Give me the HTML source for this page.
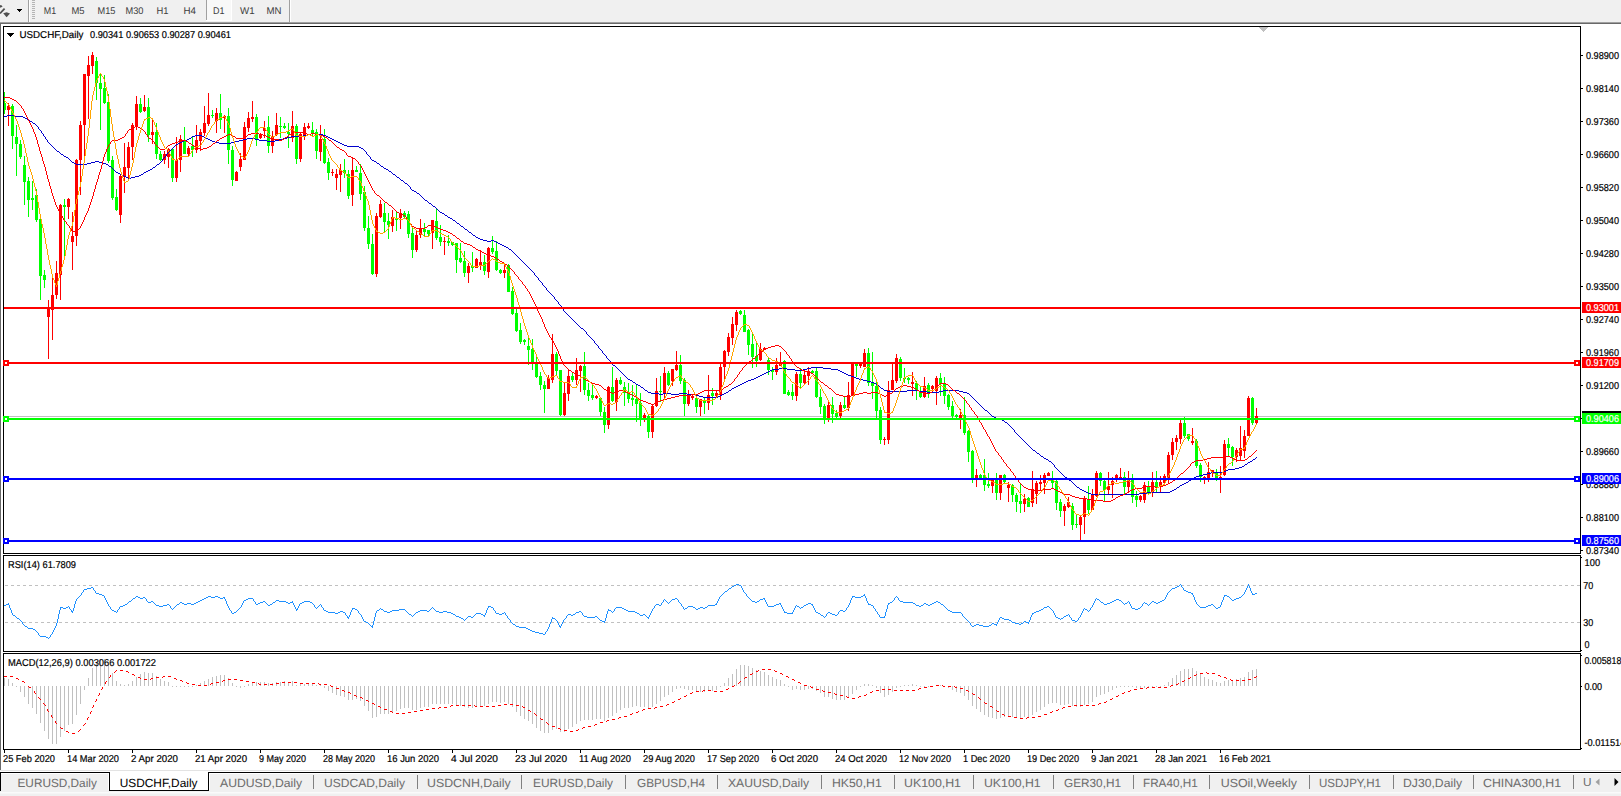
<!DOCTYPE html>
<html><head><meta charset="utf-8"><title>USDCHF,Daily</title>
<style>html,body{margin:0;padding:0;background:#fff;overflow:hidden}body{width:1621px;height:796px;position:relative;font-family:"Liberation Sans",sans-serif}</style></head>
<body>
<svg width="1621" height="796" viewBox="0 0 1621 796" style="position:absolute;left:0;top:0" font-family="Liberation Sans, sans-serif" text-rendering="geometricPrecision">
<rect x="0" y="0" width="1621" height="796" fill="#fff"/>
<g shape-rendering="crispEdges">
<rect x="0" y="0" width="1621" height="22" fill="#f0f0f0"/>
<rect x="0" y="22" width="1621" height="1" fill="#a0a0a0"/>
<rect x="0" y="23" width="1621" height="1" fill="#696969"/>
<rect x="0" y="24" width="1" height="746" fill="#696969"/>
<rect x="28" y="0" width="1" height="22" fill="#a0a0a0"/><rect x="29" y="0" width="1" height="22" fill="#fff"/>
<rect x="32" y="0" width="3" height="1" fill="#b4b4b4"/>
<rect x="32" y="2" width="3" height="1" fill="#b4b4b4"/>
<rect x="32" y="4" width="3" height="1" fill="#b4b4b4"/>
<rect x="32" y="6" width="3" height="1" fill="#b4b4b4"/>
<rect x="32" y="8" width="3" height="1" fill="#b4b4b4"/>
<rect x="32" y="10" width="3" height="1" fill="#b4b4b4"/>
<rect x="32" y="12" width="3" height="1" fill="#b4b4b4"/>
<rect x="32" y="14" width="3" height="1" fill="#b4b4b4"/>
<rect x="32" y="16" width="3" height="1" fill="#b4b4b4"/>
<rect x="32" y="18" width="3" height="1" fill="#b4b4b4"/>
<rect x="289" y="0" width="1" height="22" fill="#a0a0a0"/><rect x="290" y="0" width="1" height="22" fill="#fff"/>
<rect x="206" y="0" width="1" height="20" fill="#a0a0a0"/><rect x="207" y="0" width="24" height="20" fill="#f8f8f8"/><rect x="231" y="0" width="1" height="21" fill="#fff"/><rect x="206" y="20" width="26" height="1" fill="#fff"/>
<rect x="17" y="9" width="5" height="1" fill="#000"/><rect x="18" y="10" width="3" height="1" fill="#000"/><rect x="19" y="11" width="1" height="1" fill="#000"/>
</g>
<path d="M0 13.5 L4.6 8.6" stroke="#505050" stroke-width="1.8" fill="none"/><path d="M0 5.2 L1.2 5 L2.6 6.8 L0 7.8Z" fill="#505050"/><path d="M3.2 13.2 L6.6 12.2 L10 13.4 L6.6 17.2Z" fill="#505050"/>
<g opacity="0.99">
<text x="43.8" y="14" font-size="9.7" fill="#3c3c3c" textLength="12.4" lengthAdjust="spacingAndGlyphs">M1</text>
<text x="71.5" y="14" font-size="9.7" fill="#3c3c3c" textLength="13.1" lengthAdjust="spacingAndGlyphs">M5</text>
<text x="97.6" y="14" font-size="9.7" fill="#3c3c3c" textLength="17.9" lengthAdjust="spacingAndGlyphs">M15</text>
<text x="125.5" y="14" font-size="9.7" fill="#3c3c3c" textLength="18.0" lengthAdjust="spacingAndGlyphs">M30</text>
<text x="156.5" y="14" font-size="9.7" fill="#3c3c3c" textLength="12.0" lengthAdjust="spacingAndGlyphs">H1</text>
<text x="183.5" y="14" font-size="9.7" fill="#3c3c3c" textLength="12.5" lengthAdjust="spacingAndGlyphs">H4</text>
<text x="213" y="14" font-size="9.7" fill="#3c3c3c" textLength="11.5" lengthAdjust="spacingAndGlyphs">D1</text>
<text x="240" y="14" font-size="9.7" fill="#3c3c3c" textLength="14.6" lengthAdjust="spacingAndGlyphs">W1</text>
<text x="266.5" y="14" font-size="9.7" fill="#3c3c3c" textLength="15.0" lengthAdjust="spacingAndGlyphs">MN</text>
</g>
<g shape-rendering="crispEdges" fill="#000">
<rect x="3" y="26" width="1578" height="1"/>
<rect x="3" y="26" width="1" height="528"/>
<rect x="3" y="553" width="1578" height="1"/>
<rect x="1580" y="26" width="1" height="528"/><rect x="1580" y="555" width="1" height="97"/><rect x="1580" y="653" width="1" height="97"/>
<rect x="3" y="555" width="1578" height="1"/><rect x="3" y="555" width="1" height="97"/><rect x="3" y="651" width="1578" height="1"/>
<rect x="3" y="653" width="1578" height="1"/><rect x="3" y="653" width="1" height="97"/><rect x="3" y="749" width="1578" height="1"/>
<rect x="4" y="750" width="1" height="3"/>
<rect x="68" y="750" width="1" height="3"/>
<rect x="132" y="750" width="1" height="3"/>
<rect x="196" y="750" width="1" height="3"/>
<rect x="260" y="750" width="1" height="3"/>
<rect x="324" y="750" width="1" height="3"/>
<rect x="388" y="750" width="1" height="3"/>
<rect x="452" y="750" width="1" height="3"/>
<rect x="516" y="750" width="1" height="3"/>
<rect x="580" y="750" width="1" height="3"/>
<rect x="644" y="750" width="1" height="3"/>
<rect x="708" y="750" width="1" height="3"/>
<rect x="772" y="750" width="1" height="3"/>
<rect x="836" y="750" width="1" height="3"/>
<rect x="900" y="750" width="1" height="3"/>
<rect x="964" y="750" width="1" height="3"/>
<rect x="1028" y="750" width="1" height="3"/>
<rect x="1092" y="750" width="1" height="3"/>
<rect x="1156" y="750" width="1" height="3"/>
<rect x="1220" y="750" width="1" height="3"/>
<rect x="1581" y="55" width="2" height="1"/>
<rect x="1581" y="88" width="2" height="1"/>
<rect x="1581" y="121" width="2" height="1"/>
<rect x="1581" y="154" width="2" height="1"/>
<rect x="1581" y="187" width="2" height="1"/>
<rect x="1581" y="220" width="2" height="1"/>
<rect x="1581" y="253" width="2" height="1"/>
<rect x="1581" y="286" width="2" height="1"/>
<rect x="1581" y="319" width="2" height="1"/>
<rect x="1581" y="352" width="2" height="1"/>
<rect x="1581" y="385" width="2" height="1"/>
<rect x="1581" y="418" width="2" height="1"/>
<rect x="1581" y="451" width="2" height="1"/>
<rect x="1581" y="484" width="2" height="1"/>
<rect x="1581" y="517" width="2" height="1"/>
<rect x="1581" y="550" width="2" height="1"/>
<rect x="1581" y="557" width="1" height="1"/>
<rect x="1581" y="650" width="1" height="1"/>
<rect x="1581" y="655" width="1" height="1"/>
<rect x="1581" y="686" width="1" height="1"/>
<rect x="1581" y="748" width="1" height="1"/>
</g>
<g shape-rendering="crispEdges" fill="#c0c0c0"><rect x="1259" y="27" width="9" height="1"/><rect x="1260" y="28" width="7" height="1"/><rect x="1261" y="29" width="5" height="1"/><rect x="1262" y="30" width="3" height="1"/><rect x="1263" y="31" width="1" height="1"/></g>
<g shape-rendering="crispEdges" stroke="#c0c0c0" stroke-width="1" stroke-dasharray="3 3">
<line x1="5" y1="585.5" x2="1580" y2="585.5"/><line x1="5" y1="622.5" x2="1580" y2="622.5"/>
</g>
<g shape-rendering="crispEdges">
<rect x="4" y="416" width="1576" height="1" fill="#c0c0c0"/>
<rect x="4" y="92" width="1" height="22" fill="#00ff00"/><rect x="4" y="103" width="2" height="7" fill="#00ff00"/>
<rect x="8" y="103" width="1" height="23" fill="#ff0000"/><rect x="7" y="106" width="3" height="4" fill="#ff0000"/>
<rect x="12" y="104" width="1" height="45" fill="#00ff00"/><rect x="11" y="106" width="3" height="30" fill="#00ff00"/>
<rect x="16" y="125" width="1" height="51" fill="#00ff00"/><rect x="15" y="137" width="3" height="7" fill="#00ff00"/>
<rect x="20" y="140" width="1" height="19" fill="#00ff00"/><rect x="19" y="144" width="3" height="13" fill="#00ff00"/>
<rect x="24" y="156" width="1" height="49" fill="#00ff00"/><rect x="23" y="165" width="3" height="17" fill="#00ff00"/>
<rect x="28" y="177" width="1" height="40" fill="#00ff00"/><rect x="27" y="181" width="3" height="19" fill="#00ff00"/>
<rect x="32" y="181" width="1" height="29" fill="#00ff00"/><rect x="31" y="198" width="3" height="2" fill="#00ff00"/>
<rect x="36" y="189" width="1" height="33" fill="#00ff00"/><rect x="35" y="195" width="3" height="25" fill="#00ff00"/>
<rect x="40" y="217" width="1" height="83" fill="#00ff00"/><rect x="39" y="219" width="3" height="57" fill="#00ff00"/>
<rect x="44" y="270" width="1" height="18" fill="#00ff00"/><rect x="43" y="275" width="3" height="5" fill="#00ff00"/>
<rect x="48" y="300" width="1" height="59" fill="#ff0000"/><rect x="47" y="308" width="3" height="9" fill="#ff0000"/>
<rect x="52" y="278" width="1" height="62" fill="#ff0000"/><rect x="51" y="295" width="3" height="15" fill="#ff0000"/>
<rect x="56" y="261" width="1" height="38" fill="#ff0000"/><rect x="55" y="273" width="3" height="22" fill="#ff0000"/>
<rect x="60" y="204" width="1" height="96" fill="#ff0000"/><rect x="59" y="205" width="3" height="70" fill="#ff0000"/>
<rect x="64" y="199" width="1" height="57" fill="#00ff00"/><rect x="63" y="205" width="3" height="2" fill="#00ff00"/>
<rect x="68" y="198" width="1" height="21" fill="#ff0000"/><rect x="67" y="199" width="3" height="8" fill="#ff0000"/>
<rect x="72" y="212" width="1" height="58" fill="#ff0000"/><rect x="71" y="236" width="3" height="6" fill="#ff0000"/>
<rect x="76" y="159" width="1" height="87" fill="#ff0000"/><rect x="75" y="160" width="3" height="76" fill="#ff0000"/>
<rect x="80" y="121" width="1" height="74" fill="#ff0000"/><rect x="79" y="125" width="3" height="35" fill="#ff0000"/>
<rect x="84" y="74" width="1" height="82" fill="#ff0000"/><rect x="83" y="74" width="3" height="51" fill="#ff0000"/>
<rect x="88" y="56" width="1" height="63" fill="#ff0000"/><rect x="87" y="65" width="3" height="11" fill="#ff0000"/>
<rect x="92" y="52" width="1" height="22" fill="#ff0000"/><rect x="91" y="55" width="3" height="11" fill="#ff0000"/>
<rect x="96" y="57" width="1" height="43" fill="#00ff00"/><rect x="95" y="61" width="3" height="22" fill="#00ff00"/>
<rect x="100" y="74" width="1" height="56" fill="#00ff00"/><rect x="99" y="83" width="3" height="6" fill="#00ff00"/>
<rect x="104" y="75" width="1" height="29" fill="#00ff00"/><rect x="103" y="88" width="3" height="15" fill="#00ff00"/>
<rect x="108" y="94" width="1" height="69" fill="#00ff00"/><rect x="107" y="102" width="3" height="59" fill="#00ff00"/>
<rect x="112" y="156" width="1" height="44" fill="#00ff00"/><rect x="111" y="160" width="3" height="38" fill="#00ff00"/>
<rect x="116" y="189" width="1" height="22" fill="#00ff00"/><rect x="115" y="197" width="3" height="13" fill="#00ff00"/>
<rect x="120" y="175" width="1" height="48" fill="#ff0000"/><rect x="119" y="176" width="3" height="39" fill="#ff0000"/>
<rect x="124" y="143" width="1" height="50" fill="#ff0000"/><rect x="123" y="167" width="3" height="10" fill="#ff0000"/>
<rect x="128" y="142" width="1" height="36" fill="#ff0000"/><rect x="127" y="147" width="3" height="21" fill="#ff0000"/>
<rect x="132" y="123" width="1" height="37" fill="#ff0000"/><rect x="131" y="125" width="3" height="22" fill="#ff0000"/>
<rect x="136" y="96" width="1" height="34" fill="#ff0000"/><rect x="135" y="104" width="3" height="22" fill="#ff0000"/>
<rect x="140" y="98" width="1" height="15" fill="#00ff00"/><rect x="139" y="104" width="3" height="8" fill="#00ff00"/>
<rect x="144" y="95" width="1" height="17" fill="#ff0000"/><rect x="143" y="107" width="3" height="4" fill="#ff0000"/>
<rect x="148" y="98" width="1" height="44" fill="#00ff00"/><rect x="147" y="107" width="3" height="28" fill="#00ff00"/>
<rect x="152" y="119" width="1" height="25" fill="#ff0000"/><rect x="151" y="132" width="3" height="3" fill="#ff0000"/>
<rect x="156" y="123" width="1" height="36" fill="#00ff00"/><rect x="155" y="132" width="3" height="22" fill="#00ff00"/>
<rect x="160" y="151" width="1" height="10" fill="#00ff00"/><rect x="159" y="154" width="3" height="6" fill="#00ff00"/>
<rect x="164" y="151" width="1" height="13" fill="#ff0000"/><rect x="163" y="154" width="3" height="6" fill="#ff0000"/>
<rect x="168" y="148" width="1" height="20" fill="#ff0000"/><rect x="167" y="149" width="3" height="8" fill="#ff0000"/>
<rect x="172" y="148" width="1" height="34" fill="#00ff00"/><rect x="171" y="149" width="3" height="29" fill="#00ff00"/>
<rect x="176" y="137" width="1" height="45" fill="#ff0000"/><rect x="175" y="160" width="3" height="18" fill="#ff0000"/>
<rect x="180" y="135" width="1" height="37" fill="#ff0000"/><rect x="179" y="139" width="3" height="21" fill="#ff0000"/>
<rect x="184" y="127" width="1" height="27" fill="#00ff00"/><rect x="183" y="140" width="3" height="14" fill="#00ff00"/>
<rect x="188" y="146" width="1" height="10" fill="#ff0000"/><rect x="187" y="148" width="3" height="6" fill="#ff0000"/>
<rect x="192" y="137" width="1" height="20" fill="#00ff00"/><rect x="191" y="146" width="3" height="4" fill="#00ff00"/>
<rect x="196" y="125" width="1" height="28" fill="#ff0000"/><rect x="195" y="140" width="3" height="10" fill="#ff0000"/>
<rect x="200" y="129" width="1" height="22" fill="#ff0000"/><rect x="199" y="132" width="3" height="9" fill="#ff0000"/>
<rect x="204" y="106" width="1" height="30" fill="#ff0000"/><rect x="203" y="123" width="3" height="10" fill="#ff0000"/>
<rect x="208" y="93" width="1" height="33" fill="#ff0000"/><rect x="207" y="115" width="3" height="9" fill="#ff0000"/>
<rect x="212" y="110" width="1" height="8" fill="#00ff00"/><rect x="211" y="115" width="3" height="1" fill="#00ff00"/>
<rect x="216" y="108" width="1" height="25" fill="#ff0000"/><rect x="215" y="113" width="3" height="8" fill="#ff0000"/>
<rect x="220" y="94" width="1" height="35" fill="#00ff00"/><rect x="219" y="113" width="3" height="7" fill="#00ff00"/>
<rect x="224" y="115" width="1" height="18" fill="#ff0000"/><rect x="223" y="116" width="3" height="2" fill="#ff0000"/>
<rect x="228" y="108" width="1" height="56" fill="#00ff00"/><rect x="227" y="116" width="3" height="34" fill="#00ff00"/>
<rect x="232" y="146" width="1" height="40" fill="#00ff00"/><rect x="231" y="150" width="3" height="30" fill="#00ff00"/>
<rect x="236" y="171" width="1" height="10" fill="#ff0000"/><rect x="235" y="172" width="3" height="9" fill="#ff0000"/>
<rect x="240" y="153" width="1" height="18" fill="#ff0000"/><rect x="239" y="159" width="3" height="8" fill="#ff0000"/>
<rect x="244" y="122" width="1" height="38" fill="#ff0000"/><rect x="243" y="127" width="3" height="33" fill="#ff0000"/>
<rect x="248" y="112" width="1" height="20" fill="#ff0000"/><rect x="247" y="118" width="3" height="10" fill="#ff0000"/>
<rect x="252" y="101" width="1" height="21" fill="#ff0000"/><rect x="251" y="117" width="3" height="2" fill="#ff0000"/>
<rect x="256" y="114" width="1" height="32" fill="#00ff00"/><rect x="255" y="117" width="3" height="23" fill="#00ff00"/>
<rect x="260" y="133" width="1" height="6" fill="#ff0000"/><rect x="259" y="134" width="3" height="4" fill="#ff0000"/>
<rect x="264" y="121" width="1" height="17" fill="#ff0000"/><rect x="263" y="128" width="3" height="3" fill="#ff0000"/>
<rect x="268" y="116" width="1" height="37" fill="#00ff00"/><rect x="267" y="127" width="3" height="19" fill="#00ff00"/>
<rect x="272" y="131" width="1" height="22" fill="#ff0000"/><rect x="271" y="136" width="3" height="10" fill="#ff0000"/>
<rect x="276" y="113" width="1" height="23" fill="#ff0000"/><rect x="275" y="125" width="3" height="10" fill="#ff0000"/>
<rect x="280" y="117" width="1" height="21" fill="#00ff00"/><rect x="279" y="126" width="3" height="1" fill="#00ff00"/>
<rect x="284" y="123" width="1" height="6" fill="#00ff00"/><rect x="283" y="126" width="3" height="2" fill="#00ff00"/>
<rect x="288" y="123" width="1" height="25" fill="#00ff00"/><rect x="287" y="132" width="3" height="2" fill="#00ff00"/>
<rect x="292" y="111" width="1" height="31" fill="#ff0000"/><rect x="291" y="126" width="3" height="12" fill="#ff0000"/>
<rect x="296" y="124" width="1" height="40" fill="#00ff00"/><rect x="295" y="126" width="3" height="33" fill="#00ff00"/>
<rect x="300" y="132" width="1" height="30" fill="#ff0000"/><rect x="299" y="134" width="3" height="25" fill="#ff0000"/>
<rect x="304" y="123" width="1" height="17" fill="#ff0000"/><rect x="303" y="127" width="3" height="8" fill="#ff0000"/>
<rect x="308" y="123" width="1" height="6" fill="#ff0000"/><rect x="307" y="126" width="3" height="2" fill="#ff0000"/>
<rect x="312" y="122" width="1" height="15" fill="#00ff00"/><rect x="311" y="130" width="3" height="3" fill="#00ff00"/>
<rect x="316" y="129" width="1" height="30" fill="#00ff00"/><rect x="315" y="132" width="3" height="19" fill="#00ff00"/>
<rect x="320" y="125" width="1" height="36" fill="#ff0000"/><rect x="319" y="139" width="3" height="13" fill="#ff0000"/>
<rect x="324" y="129" width="1" height="35" fill="#00ff00"/><rect x="323" y="139" width="3" height="24" fill="#00ff00"/>
<rect x="328" y="158" width="1" height="22" fill="#00ff00"/><rect x="327" y="162" width="3" height="11" fill="#00ff00"/>
<rect x="332" y="169" width="1" height="7" fill="#ff0000"/><rect x="331" y="172" width="3" height="1" fill="#ff0000"/>
<rect x="336" y="169" width="1" height="21" fill="#ff0000"/><rect x="335" y="174" width="3" height="4" fill="#ff0000"/>
<rect x="340" y="164" width="1" height="28" fill="#ff0000"/><rect x="339" y="170" width="3" height="5" fill="#ff0000"/>
<rect x="344" y="159" width="1" height="19" fill="#00ff00"/><rect x="343" y="170" width="3" height="3" fill="#00ff00"/>
<rect x="348" y="170" width="1" height="29" fill="#00ff00"/><rect x="347" y="174" width="3" height="22" fill="#00ff00"/>
<rect x="352" y="158" width="1" height="48" fill="#ff0000"/><rect x="351" y="170" width="3" height="25" fill="#ff0000"/>
<rect x="356" y="166" width="1" height="6" fill="#00ff00"/><rect x="355" y="170" width="3" height="2" fill="#00ff00"/>
<rect x="360" y="164" width="1" height="36" fill="#00ff00"/><rect x="359" y="173" width="3" height="21" fill="#00ff00"/>
<rect x="364" y="186" width="1" height="45" fill="#00ff00"/><rect x="363" y="192" width="3" height="36" fill="#00ff00"/>
<rect x="368" y="216" width="1" height="33" fill="#00ff00"/><rect x="367" y="228" width="3" height="16" fill="#00ff00"/>
<rect x="372" y="234" width="1" height="41" fill="#00ff00"/><rect x="371" y="244" width="3" height="30" fill="#00ff00"/>
<rect x="376" y="213" width="1" height="64" fill="#ff0000"/><rect x="375" y="216" width="3" height="58" fill="#ff0000"/>
<rect x="380" y="200" width="1" height="18" fill="#ff0000"/><rect x="379" y="204" width="3" height="13" fill="#ff0000"/>
<rect x="384" y="203" width="1" height="29" fill="#00ff00"/><rect x="383" y="213" width="3" height="9" fill="#00ff00"/>
<rect x="388" y="213" width="1" height="26" fill="#00ff00"/><rect x="387" y="221" width="3" height="4" fill="#00ff00"/>
<rect x="392" y="210" width="1" height="22" fill="#ff0000"/><rect x="391" y="217" width="3" height="9" fill="#ff0000"/>
<rect x="396" y="211" width="1" height="20" fill="#00ff00"/><rect x="395" y="218" width="3" height="2" fill="#00ff00"/>
<rect x="400" y="209" width="1" height="20" fill="#ff0000"/><rect x="399" y="213" width="3" height="5" fill="#ff0000"/>
<rect x="404" y="211" width="1" height="7" fill="#00ff00"/><rect x="403" y="213" width="3" height="4" fill="#00ff00"/>
<rect x="408" y="211" width="1" height="27" fill="#00ff00"/><rect x="407" y="214" width="3" height="20" fill="#00ff00"/>
<rect x="412" y="227" width="1" height="31" fill="#00ff00"/><rect x="411" y="233" width="3" height="17" fill="#00ff00"/>
<rect x="416" y="230" width="1" height="22" fill="#ff0000"/><rect x="415" y="235" width="3" height="15" fill="#ff0000"/>
<rect x="420" y="219" width="1" height="19" fill="#ff0000"/><rect x="419" y="228" width="3" height="7" fill="#ff0000"/>
<rect x="424" y="223" width="1" height="14" fill="#00ff00"/><rect x="423" y="229" width="3" height="3" fill="#00ff00"/>
<rect x="428" y="230" width="1" height="7" fill="#00ff00"/><rect x="427" y="230" width="3" height="4" fill="#00ff00"/>
<rect x="432" y="220" width="1" height="29" fill="#ff0000"/><rect x="431" y="220" width="3" height="13" fill="#ff0000"/>
<rect x="436" y="208" width="1" height="32" fill="#00ff00"/><rect x="435" y="221" width="3" height="17" fill="#00ff00"/>
<rect x="440" y="225" width="1" height="21" fill="#00ff00"/><rect x="439" y="237" width="3" height="5" fill="#00ff00"/>
<rect x="444" y="237" width="1" height="18" fill="#ff0000"/><rect x="443" y="241" width="3" height="1" fill="#ff0000"/>
<rect x="448" y="235" width="1" height="11" fill="#00ff00"/><rect x="447" y="241" width="3" height="2" fill="#00ff00"/>
<rect x="452" y="242" width="1" height="4" fill="#00ff00"/><rect x="451" y="242" width="3" height="3" fill="#00ff00"/>
<rect x="456" y="243" width="1" height="30" fill="#00ff00"/><rect x="455" y="243" width="3" height="17" fill="#00ff00"/>
<rect x="460" y="243" width="1" height="20" fill="#00ff00"/><rect x="459" y="258" width="3" height="4" fill="#00ff00"/>
<rect x="464" y="251" width="1" height="26" fill="#00ff00"/><rect x="463" y="261" width="3" height="12" fill="#00ff00"/>
<rect x="468" y="263" width="1" height="20" fill="#ff0000"/><rect x="467" y="266" width="3" height="7" fill="#ff0000"/>
<rect x="472" y="252" width="1" height="20" fill="#00ff00"/><rect x="471" y="266" width="3" height="2" fill="#00ff00"/>
<rect x="476" y="258" width="1" height="10" fill="#ff0000"/><rect x="475" y="259" width="3" height="9" fill="#ff0000"/>
<rect x="480" y="250" width="1" height="20" fill="#ff0000"/><rect x="479" y="262" width="3" height="4" fill="#ff0000"/>
<rect x="484" y="255" width="1" height="20" fill="#00ff00"/><rect x="483" y="262" width="3" height="9" fill="#00ff00"/>
<rect x="488" y="247" width="1" height="31" fill="#ff0000"/><rect x="487" y="248" width="3" height="24" fill="#ff0000"/>
<rect x="492" y="236" width="1" height="18" fill="#00ff00"/><rect x="491" y="248" width="3" height="4" fill="#00ff00"/>
<rect x="496" y="241" width="1" height="30" fill="#00ff00"/><rect x="495" y="251" width="3" height="19" fill="#00ff00"/>
<rect x="500" y="269" width="1" height="5" fill="#00ff00"/><rect x="499" y="270" width="3" height="3" fill="#00ff00"/>
<rect x="504" y="263" width="1" height="15" fill="#ff0000"/><rect x="503" y="270" width="3" height="3" fill="#ff0000"/>
<rect x="508" y="264" width="1" height="28" fill="#00ff00"/><rect x="507" y="265" width="3" height="27" fill="#00ff00"/>
<rect x="512" y="287" width="1" height="28" fill="#00ff00"/><rect x="511" y="291" width="3" height="23" fill="#00ff00"/>
<rect x="516" y="309" width="1" height="23" fill="#00ff00"/><rect x="515" y="313" width="3" height="18" fill="#00ff00"/>
<rect x="520" y="323" width="1" height="21" fill="#00ff00"/><rect x="519" y="330" width="3" height="12" fill="#00ff00"/>
<rect x="524" y="339" width="1" height="6" fill="#00ff00"/><rect x="523" y="340" width="3" height="2" fill="#00ff00"/>
<rect x="528" y="338" width="1" height="27" fill="#00ff00"/><rect x="527" y="346" width="3" height="4" fill="#00ff00"/>
<rect x="532" y="339" width="1" height="31" fill="#00ff00"/><rect x="531" y="349" width="3" height="15" fill="#00ff00"/>
<rect x="536" y="355" width="1" height="23" fill="#00ff00"/><rect x="535" y="363" width="3" height="14" fill="#00ff00"/>
<rect x="540" y="372" width="1" height="18" fill="#00ff00"/><rect x="539" y="376" width="3" height="9" fill="#00ff00"/>
<rect x="544" y="381" width="1" height="32" fill="#00ff00"/><rect x="543" y="385" width="3" height="4" fill="#00ff00"/>
<rect x="548" y="375" width="1" height="14" fill="#ff0000"/><rect x="547" y="378" width="3" height="11" fill="#ff0000"/>
<rect x="552" y="334" width="1" height="49" fill="#ff0000"/><rect x="551" y="354" width="3" height="26" fill="#ff0000"/>
<rect x="556" y="352" width="1" height="23" fill="#00ff00"/><rect x="555" y="354" width="3" height="17" fill="#00ff00"/>
<rect x="560" y="370" width="1" height="46" fill="#00ff00"/><rect x="559" y="370" width="3" height="45" fill="#00ff00"/>
<rect x="564" y="382" width="1" height="34" fill="#ff0000"/><rect x="563" y="393" width="3" height="22" fill="#ff0000"/>
<rect x="568" y="370" width="1" height="31" fill="#ff0000"/><rect x="567" y="376" width="3" height="18" fill="#ff0000"/>
<rect x="572" y="373" width="1" height="9" fill="#00ff00"/><rect x="571" y="376" width="3" height="4" fill="#00ff00"/>
<rect x="576" y="358" width="1" height="27" fill="#ff0000"/><rect x="575" y="370" width="3" height="10" fill="#ff0000"/>
<rect x="580" y="365" width="1" height="27" fill="#ff0000"/><rect x="579" y="366" width="3" height="5" fill="#ff0000"/>
<rect x="584" y="352" width="1" height="43" fill="#00ff00"/><rect x="583" y="366" width="3" height="24" fill="#00ff00"/>
<rect x="588" y="383" width="1" height="18" fill="#00ff00"/><rect x="587" y="390" width="3" height="6" fill="#00ff00"/>
<rect x="592" y="384" width="1" height="16" fill="#00ff00"/><rect x="591" y="395" width="3" height="3" fill="#00ff00"/>
<rect x="596" y="395" width="1" height="4" fill="#ff0000"/><rect x="595" y="396" width="3" height="2" fill="#ff0000"/>
<rect x="600" y="398" width="1" height="18" fill="#00ff00"/><rect x="599" y="398" width="3" height="14" fill="#00ff00"/>
<rect x="604" y="407" width="1" height="26" fill="#00ff00"/><rect x="603" y="412" width="3" height="13" fill="#00ff00"/>
<rect x="608" y="386" width="1" height="43" fill="#ff0000"/><rect x="607" y="387" width="3" height="38" fill="#ff0000"/>
<rect x="612" y="367" width="1" height="35" fill="#00ff00"/><rect x="611" y="387" width="3" height="14" fill="#00ff00"/>
<rect x="616" y="378" width="1" height="33" fill="#ff0000"/><rect x="615" y="380" width="3" height="22" fill="#ff0000"/>
<rect x="620" y="377" width="1" height="8" fill="#00ff00"/><rect x="619" y="380" width="3" height="4" fill="#00ff00"/>
<rect x="624" y="382" width="1" height="24" fill="#00ff00"/><rect x="623" y="387" width="3" height="6" fill="#00ff00"/>
<rect x="628" y="383" width="1" height="20" fill="#00ff00"/><rect x="627" y="393" width="3" height="6" fill="#00ff00"/>
<rect x="632" y="385" width="1" height="21" fill="#00ff00"/><rect x="631" y="398" width="3" height="2" fill="#00ff00"/>
<rect x="636" y="384" width="1" height="38" fill="#00ff00"/><rect x="635" y="399" width="3" height="5" fill="#00ff00"/>
<rect x="640" y="393" width="1" height="33" fill="#00ff00"/><rect x="639" y="403" width="3" height="15" fill="#00ff00"/>
<rect x="644" y="413" width="1" height="9" fill="#ff0000"/><rect x="643" y="415" width="3" height="3" fill="#ff0000"/>
<rect x="648" y="415" width="1" height="23" fill="#00ff00"/><rect x="647" y="416" width="3" height="16" fill="#00ff00"/>
<rect x="652" y="404" width="1" height="34" fill="#ff0000"/><rect x="651" y="406" width="3" height="26" fill="#ff0000"/>
<rect x="656" y="378" width="1" height="29" fill="#ff0000"/><rect x="655" y="391" width="3" height="15" fill="#ff0000"/>
<rect x="660" y="376" width="1" height="26" fill="#00ff00"/><rect x="659" y="391" width="3" height="1" fill="#00ff00"/>
<rect x="664" y="367" width="1" height="31" fill="#ff0000"/><rect x="663" y="373" width="3" height="20" fill="#ff0000"/>
<rect x="668" y="371" width="1" height="15" fill="#00ff00"/><rect x="667" y="373" width="3" height="12" fill="#00ff00"/>
<rect x="672" y="369" width="1" height="17" fill="#ff0000"/><rect x="671" y="369" width="3" height="12" fill="#ff0000"/>
<rect x="676" y="351" width="1" height="20" fill="#ff0000"/><rect x="675" y="365" width="3" height="5" fill="#ff0000"/>
<rect x="680" y="355" width="1" height="29" fill="#00ff00"/><rect x="679" y="365" width="3" height="16" fill="#00ff00"/>
<rect x="684" y="378" width="1" height="38" fill="#00ff00"/><rect x="683" y="380" width="3" height="24" fill="#00ff00"/>
<rect x="688" y="390" width="1" height="16" fill="#ff0000"/><rect x="687" y="396" width="3" height="8" fill="#ff0000"/>
<rect x="692" y="394" width="1" height="6" fill="#ff0000"/><rect x="691" y="396" width="3" height="2" fill="#ff0000"/>
<rect x="696" y="397" width="1" height="16" fill="#00ff00"/><rect x="695" y="398" width="3" height="9" fill="#00ff00"/>
<rect x="700" y="399" width="1" height="17" fill="#ff0000"/><rect x="699" y="399" width="3" height="8" fill="#ff0000"/>
<rect x="704" y="397" width="1" height="17" fill="#00ff00"/><rect x="703" y="400" width="3" height="3" fill="#00ff00"/>
<rect x="708" y="375" width="1" height="35" fill="#ff0000"/><rect x="707" y="395" width="3" height="8" fill="#ff0000"/>
<rect x="712" y="388" width="1" height="17" fill="#00ff00"/><rect x="711" y="393" width="3" height="3" fill="#00ff00"/>
<rect x="716" y="390" width="1" height="8" fill="#ff0000"/><rect x="715" y="393" width="3" height="3" fill="#ff0000"/>
<rect x="720" y="363" width="1" height="37" fill="#ff0000"/><rect x="719" y="367" width="3" height="28" fill="#ff0000"/>
<rect x="724" y="350" width="1" height="29" fill="#ff0000"/><rect x="723" y="351" width="3" height="16" fill="#ff0000"/>
<rect x="728" y="333" width="1" height="23" fill="#ff0000"/><rect x="727" y="337" width="3" height="15" fill="#ff0000"/>
<rect x="732" y="317" width="1" height="28" fill="#ff0000"/><rect x="731" y="324" width="3" height="14" fill="#ff0000"/>
<rect x="736" y="310" width="1" height="21" fill="#ff0000"/><rect x="735" y="312" width="3" height="13" fill="#ff0000"/>
<rect x="740" y="310" width="1" height="5" fill="#00ff00"/><rect x="739" y="311" width="3" height="3" fill="#00ff00"/>
<rect x="744" y="310" width="1" height="22" fill="#00ff00"/><rect x="743" y="315" width="3" height="17" fill="#00ff00"/>
<rect x="748" y="329" width="1" height="26" fill="#00ff00"/><rect x="747" y="330" width="3" height="15" fill="#00ff00"/>
<rect x="752" y="333" width="1" height="35" fill="#00ff00"/><rect x="751" y="344" width="3" height="13" fill="#00ff00"/>
<rect x="756" y="342" width="1" height="25" fill="#00ff00"/><rect x="755" y="356" width="3" height="5" fill="#00ff00"/>
<rect x="760" y="343" width="1" height="18" fill="#ff0000"/><rect x="759" y="349" width="3" height="11" fill="#ff0000"/>
<rect x="764" y="347" width="1" height="3" fill="#ff0000"/><rect x="763" y="348" width="3" height="2" fill="#ff0000"/>
<rect x="768" y="358" width="1" height="17" fill="#00ff00"/><rect x="767" y="360" width="3" height="10" fill="#00ff00"/>
<rect x="772" y="367" width="1" height="13" fill="#00ff00"/><rect x="771" y="370" width="3" height="2" fill="#00ff00"/>
<rect x="776" y="358" width="1" height="17" fill="#ff0000"/><rect x="775" y="365" width="3" height="7" fill="#ff0000"/>
<rect x="780" y="352" width="1" height="14" fill="#ff0000"/><rect x="779" y="362" width="3" height="4" fill="#ff0000"/>
<rect x="784" y="360" width="1" height="34" fill="#00ff00"/><rect x="783" y="361" width="3" height="33" fill="#00ff00"/>
<rect x="788" y="390" width="1" height="6" fill="#00ff00"/><rect x="787" y="392" width="3" height="3" fill="#00ff00"/>
<rect x="792" y="384" width="1" height="16" fill="#00ff00"/><rect x="791" y="392" width="3" height="4" fill="#00ff00"/>
<rect x="796" y="372" width="1" height="29" fill="#ff0000"/><rect x="795" y="374" width="3" height="22" fill="#ff0000"/>
<rect x="800" y="368" width="1" height="21" fill="#00ff00"/><rect x="799" y="374" width="3" height="9" fill="#00ff00"/>
<rect x="804" y="370" width="1" height="14" fill="#ff0000"/><rect x="803" y="375" width="3" height="8" fill="#ff0000"/>
<rect x="808" y="367" width="1" height="18" fill="#ff0000"/><rect x="807" y="371" width="3" height="5" fill="#ff0000"/>
<rect x="812" y="370" width="1" height="4" fill="#00ff00"/><rect x="811" y="371" width="3" height="2" fill="#00ff00"/>
<rect x="816" y="367" width="1" height="31" fill="#00ff00"/><rect x="815" y="371" width="3" height="26" fill="#00ff00"/>
<rect x="820" y="389" width="1" height="25" fill="#00ff00"/><rect x="819" y="397" width="3" height="10" fill="#00ff00"/>
<rect x="824" y="404" width="1" height="20" fill="#00ff00"/><rect x="823" y="406" width="3" height="12" fill="#00ff00"/>
<rect x="828" y="402" width="1" height="20" fill="#ff0000"/><rect x="827" y="405" width="3" height="13" fill="#ff0000"/>
<rect x="832" y="397" width="1" height="26" fill="#00ff00"/><rect x="831" y="405" width="3" height="9" fill="#00ff00"/>
<rect x="836" y="410" width="1" height="8" fill="#00ff00"/><rect x="835" y="413" width="3" height="4" fill="#00ff00"/>
<rect x="840" y="402" width="1" height="16" fill="#ff0000"/><rect x="839" y="405" width="3" height="11" fill="#ff0000"/>
<rect x="844" y="396" width="1" height="13" fill="#00ff00"/><rect x="843" y="405" width="3" height="3" fill="#00ff00"/>
<rect x="848" y="382" width="1" height="29" fill="#ff0000"/><rect x="847" y="395" width="3" height="13" fill="#ff0000"/>
<rect x="852" y="363" width="1" height="33" fill="#ff0000"/><rect x="851" y="363" width="3" height="33" fill="#ff0000"/>
<rect x="856" y="364" width="1" height="13" fill="#00ff00"/><rect x="855" y="364" width="3" height="2" fill="#00ff00"/>
<rect x="860" y="364" width="1" height="4" fill="#ff0000"/><rect x="859" y="364" width="3" height="2" fill="#ff0000"/>
<rect x="864" y="349" width="1" height="18" fill="#ff0000"/><rect x="863" y="353" width="3" height="14" fill="#ff0000"/>
<rect x="868" y="348" width="1" height="38" fill="#00ff00"/><rect x="867" y="353" width="3" height="30" fill="#00ff00"/>
<rect x="872" y="352" width="1" height="47" fill="#00ff00"/><rect x="871" y="382" width="3" height="4" fill="#00ff00"/>
<rect x="876" y="381" width="1" height="37" fill="#00ff00"/><rect x="875" y="386" width="3" height="25" fill="#00ff00"/>
<rect x="880" y="407" width="1" height="37" fill="#00ff00"/><rect x="879" y="410" width="3" height="30" fill="#00ff00"/>
<rect x="884" y="437" width="1" height="8" fill="#ff0000"/><rect x="883" y="439" width="3" height="1" fill="#ff0000"/>
<rect x="888" y="381" width="1" height="63" fill="#ff0000"/><rect x="887" y="390" width="3" height="50" fill="#ff0000"/>
<rect x="892" y="363" width="1" height="27" fill="#ff0000"/><rect x="891" y="380" width="3" height="10" fill="#ff0000"/>
<rect x="896" y="354" width="1" height="29" fill="#ff0000"/><rect x="895" y="358" width="3" height="23" fill="#ff0000"/>
<rect x="900" y="357" width="1" height="24" fill="#00ff00"/><rect x="899" y="359" width="3" height="19" fill="#00ff00"/>
<rect x="904" y="368" width="1" height="15" fill="#00ff00"/><rect x="903" y="378" width="3" height="1" fill="#00ff00"/>
<rect x="908" y="377" width="1" height="7" fill="#00ff00"/><rect x="907" y="378" width="3" height="2" fill="#00ff00"/>
<rect x="912" y="372" width="1" height="24" fill="#ff0000"/><rect x="911" y="382" width="3" height="2" fill="#ff0000"/>
<rect x="916" y="381" width="1" height="19" fill="#00ff00"/><rect x="915" y="383" width="3" height="8" fill="#00ff00"/>
<rect x="920" y="386" width="1" height="12" fill="#00ff00"/><rect x="919" y="391" width="3" height="6" fill="#00ff00"/>
<rect x="924" y="377" width="1" height="21" fill="#ff0000"/><rect x="923" y="386" width="3" height="11" fill="#ff0000"/>
<rect x="928" y="383" width="1" height="15" fill="#00ff00"/><rect x="927" y="385" width="3" height="7" fill="#00ff00"/>
<rect x="932" y="385" width="1" height="8" fill="#ff0000"/><rect x="931" y="386" width="3" height="3" fill="#ff0000"/>
<rect x="936" y="376" width="1" height="29" fill="#ff0000"/><rect x="935" y="378" width="3" height="13" fill="#ff0000"/>
<rect x="940" y="373" width="1" height="23" fill="#00ff00"/><rect x="939" y="378" width="3" height="6" fill="#00ff00"/>
<rect x="944" y="377" width="1" height="27" fill="#00ff00"/><rect x="943" y="384" width="3" height="12" fill="#00ff00"/>
<rect x="948" y="394" width="1" height="16" fill="#00ff00"/><rect x="947" y="395" width="3" height="12" fill="#00ff00"/>
<rect x="952" y="401" width="1" height="17" fill="#00ff00"/><rect x="951" y="406" width="3" height="10" fill="#00ff00"/>
<rect x="956" y="414" width="1" height="4" fill="#00ff00"/><rect x="955" y="415" width="3" height="2" fill="#00ff00"/>
<rect x="960" y="409" width="1" height="20" fill="#ff0000"/><rect x="959" y="415" width="3" height="3" fill="#ff0000"/>
<rect x="964" y="397" width="1" height="38" fill="#00ff00"/><rect x="963" y="415" width="3" height="18" fill="#00ff00"/>
<rect x="968" y="430" width="1" height="32" fill="#00ff00"/><rect x="967" y="431" width="3" height="21" fill="#00ff00"/>
<rect x="972" y="450" width="1" height="33" fill="#00ff00"/><rect x="971" y="451" width="3" height="27" fill="#00ff00"/>
<rect x="976" y="469" width="1" height="18" fill="#ff0000"/><rect x="975" y="475" width="3" height="3" fill="#ff0000"/>
<rect x="980" y="474" width="1" height="4" fill="#00ff00"/><rect x="979" y="475" width="3" height="3" fill="#00ff00"/>
<rect x="984" y="459" width="1" height="32" fill="#00ff00"/><rect x="983" y="475" width="3" height="10" fill="#00ff00"/>
<rect x="988" y="473" width="1" height="15" fill="#00ff00"/><rect x="987" y="484" width="3" height="2" fill="#00ff00"/>
<rect x="992" y="479" width="1" height="14" fill="#ff0000"/><rect x="991" y="480" width="3" height="6" fill="#ff0000"/>
<rect x="996" y="473" width="1" height="27" fill="#00ff00"/><rect x="995" y="479" width="3" height="14" fill="#00ff00"/>
<rect x="1000" y="475" width="1" height="25" fill="#ff0000"/><rect x="999" y="475" width="3" height="18" fill="#ff0000"/>
<rect x="1004" y="474" width="1" height="9" fill="#00ff00"/><rect x="1003" y="475" width="3" height="7" fill="#00ff00"/>
<rect x="1008" y="482" width="1" height="20" fill="#ff0000"/><rect x="1007" y="485" width="3" height="3" fill="#ff0000"/>
<rect x="1012" y="484" width="1" height="18" fill="#00ff00"/><rect x="1011" y="485" width="3" height="10" fill="#00ff00"/>
<rect x="1016" y="493" width="1" height="19" fill="#00ff00"/><rect x="1015" y="495" width="3" height="7" fill="#00ff00"/>
<rect x="1020" y="483" width="1" height="30" fill="#00ff00"/><rect x="1019" y="501" width="3" height="3" fill="#00ff00"/>
<rect x="1024" y="494" width="1" height="18" fill="#ff0000"/><rect x="1023" y="499" width="3" height="5" fill="#ff0000"/>
<rect x="1028" y="497" width="1" height="10" fill="#00ff00"/><rect x="1027" y="498" width="3" height="9" fill="#00ff00"/>
<rect x="1032" y="471" width="1" height="36" fill="#ff0000"/><rect x="1031" y="489" width="3" height="14" fill="#ff0000"/>
<rect x="1036" y="481" width="1" height="23" fill="#ff0000"/><rect x="1035" y="483" width="3" height="11" fill="#ff0000"/>
<rect x="1040" y="475" width="1" height="15" fill="#ff0000"/><rect x="1039" y="482" width="3" height="2" fill="#ff0000"/>
<rect x="1044" y="473" width="1" height="21" fill="#ff0000"/><rect x="1043" y="475" width="3" height="8" fill="#ff0000"/>
<rect x="1048" y="472" width="1" height="4" fill="#ff0000"/><rect x="1047" y="473" width="3" height="3" fill="#ff0000"/>
<rect x="1052" y="471" width="1" height="18" fill="#00ff00"/><rect x="1051" y="480" width="3" height="3" fill="#00ff00"/>
<rect x="1056" y="480" width="1" height="30" fill="#00ff00"/><rect x="1055" y="481" width="3" height="22" fill="#00ff00"/>
<rect x="1060" y="499" width="1" height="18" fill="#00ff00"/><rect x="1059" y="502" width="3" height="9" fill="#00ff00"/>
<rect x="1064" y="504" width="1" height="22" fill="#ff0000"/><rect x="1063" y="506" width="3" height="5" fill="#ff0000"/>
<rect x="1068" y="497" width="1" height="11" fill="#ff0000"/><rect x="1067" y="502" width="3" height="5" fill="#ff0000"/>
<rect x="1072" y="503" width="1" height="27" fill="#00ff00"/><rect x="1071" y="506" width="3" height="19" fill="#00ff00"/>
<rect x="1076" y="515" width="1" height="13" fill="#00ff00"/><rect x="1075" y="524" width="3" height="1" fill="#00ff00"/>
<rect x="1080" y="516" width="1" height="24" fill="#ff0000"/><rect x="1079" y="517" width="3" height="8" fill="#ff0000"/>
<rect x="1084" y="496" width="1" height="38" fill="#ff0000"/><rect x="1083" y="498" width="3" height="19" fill="#ff0000"/>
<rect x="1088" y="486" width="1" height="28" fill="#00ff00"/><rect x="1087" y="499" width="3" height="11" fill="#00ff00"/>
<rect x="1092" y="489" width="1" height="21" fill="#ff0000"/><rect x="1091" y="495" width="3" height="15" fill="#ff0000"/>
<rect x="1096" y="471" width="1" height="26" fill="#ff0000"/><rect x="1095" y="473" width="3" height="23" fill="#ff0000"/>
<rect x="1100" y="472" width="1" height="14" fill="#00ff00"/><rect x="1099" y="473" width="3" height="8" fill="#00ff00"/>
<rect x="1104" y="480" width="1" height="21" fill="#00ff00"/><rect x="1103" y="481" width="3" height="9" fill="#00ff00"/>
<rect x="1108" y="472" width="1" height="23" fill="#ff0000"/><rect x="1107" y="486" width="3" height="4" fill="#ff0000"/>
<rect x="1112" y="477" width="1" height="21" fill="#ff0000"/><rect x="1111" y="481" width="3" height="4" fill="#ff0000"/>
<rect x="1116" y="474" width="1" height="8" fill="#ff0000"/><rect x="1115" y="475" width="3" height="3" fill="#ff0000"/>
<rect x="1120" y="468" width="1" height="12" fill="#ff0000"/><rect x="1119" y="477" width="3" height="2" fill="#ff0000"/>
<rect x="1124" y="472" width="1" height="22" fill="#00ff00"/><rect x="1123" y="477" width="3" height="10" fill="#00ff00"/>
<rect x="1128" y="471" width="1" height="22" fill="#ff0000"/><rect x="1127" y="480" width="3" height="7" fill="#ff0000"/>
<rect x="1132" y="474" width="1" height="29" fill="#00ff00"/><rect x="1131" y="480" width="3" height="17" fill="#00ff00"/>
<rect x="1136" y="491" width="1" height="16" fill="#00ff00"/><rect x="1135" y="496" width="3" height="4" fill="#00ff00"/>
<rect x="1140" y="495" width="1" height="7" fill="#ff0000"/><rect x="1139" y="496" width="3" height="4" fill="#ff0000"/>
<rect x="1144" y="482" width="1" height="21" fill="#ff0000"/><rect x="1143" y="485" width="3" height="15" fill="#ff0000"/>
<rect x="1148" y="481" width="1" height="13" fill="#00ff00"/><rect x="1147" y="486" width="3" height="6" fill="#00ff00"/>
<rect x="1152" y="472" width="1" height="25" fill="#ff0000"/><rect x="1151" y="482" width="3" height="10" fill="#ff0000"/>
<rect x="1156" y="471" width="1" height="21" fill="#00ff00"/><rect x="1155" y="482" width="3" height="5" fill="#00ff00"/>
<rect x="1160" y="476" width="1" height="16" fill="#ff0000"/><rect x="1159" y="482" width="3" height="4" fill="#ff0000"/>
<rect x="1164" y="474" width="1" height="10" fill="#ff0000"/><rect x="1163" y="476" width="3" height="7" fill="#ff0000"/>
<rect x="1168" y="452" width="1" height="32" fill="#ff0000"/><rect x="1167" y="455" width="3" height="23" fill="#ff0000"/>
<rect x="1172" y="438" width="1" height="22" fill="#ff0000"/><rect x="1171" y="442" width="3" height="13" fill="#ff0000"/>
<rect x="1176" y="435" width="1" height="15" fill="#ff0000"/><rect x="1175" y="438" width="3" height="4" fill="#ff0000"/>
<rect x="1180" y="420" width="1" height="24" fill="#ff0000"/><rect x="1179" y="423" width="3" height="16" fill="#ff0000"/>
<rect x="1184" y="417" width="1" height="21" fill="#00ff00"/><rect x="1183" y="423" width="3" height="13" fill="#00ff00"/>
<rect x="1188" y="434" width="1" height="7" fill="#00ff00"/><rect x="1187" y="434" width="3" height="5" fill="#00ff00"/>
<rect x="1192" y="428" width="1" height="17" fill="#ff0000"/><rect x="1191" y="441" width="3" height="2" fill="#ff0000"/>
<rect x="1196" y="439" width="1" height="29" fill="#00ff00"/><rect x="1195" y="441" width="3" height="25" fill="#00ff00"/>
<rect x="1200" y="463" width="1" height="19" fill="#00ff00"/><rect x="1199" y="465" width="3" height="12" fill="#00ff00"/>
<rect x="1204" y="476" width="1" height="8" fill="#ff0000"/><rect x="1203" y="477" width="3" height="2" fill="#ff0000"/>
<rect x="1208" y="462" width="1" height="20" fill="#ff0000"/><rect x="1207" y="472" width="3" height="7" fill="#ff0000"/>
<rect x="1212" y="470" width="1" height="7" fill="#ff0000"/><rect x="1211" y="470" width="3" height="3" fill="#ff0000"/>
<rect x="1216" y="469" width="1" height="12" fill="#00ff00"/><rect x="1215" y="472" width="3" height="8" fill="#00ff00"/>
<rect x="1220" y="466" width="1" height="27" fill="#ff0000"/><rect x="1219" y="477" width="3" height="3" fill="#ff0000"/>
<rect x="1224" y="440" width="1" height="36" fill="#ff0000"/><rect x="1223" y="444" width="3" height="31" fill="#ff0000"/>
<rect x="1228" y="438" width="1" height="18" fill="#00ff00"/><rect x="1227" y="444" width="3" height="4" fill="#00ff00"/>
<rect x="1232" y="446" width="1" height="20" fill="#00ff00"/><rect x="1231" y="447" width="3" height="10" fill="#00ff00"/>
<rect x="1236" y="448" width="1" height="14" fill="#ff0000"/><rect x="1235" y="450" width="3" height="7" fill="#ff0000"/>
<rect x="1240" y="426" width="1" height="34" fill="#ff0000"/><rect x="1239" y="448" width="3" height="8" fill="#ff0000"/>
<rect x="1244" y="430" width="1" height="28" fill="#ff0000"/><rect x="1243" y="436" width="3" height="15" fill="#ff0000"/>
<rect x="1248" y="396" width="1" height="40" fill="#ff0000"/><rect x="1247" y="398" width="3" height="38" fill="#ff0000"/>
<rect x="1252" y="397" width="1" height="28" fill="#00ff00"/><rect x="1251" y="398" width="3" height="25" fill="#00ff00"/>
<rect x="1256" y="408" width="1" height="16" fill="#ff0000"/><rect x="1255" y="416" width="3" height="7" fill="#ff0000"/>
</g>
<g shape-rendering="crispEdges">
<path d="M1046 459.5h2M1253 459.5h2M487 241.5h4M494 241.5h2M779 368.5h8M807 368.5h4M823 368.5h8M768 371.5h2M840 371.5h2M74 163.5h2M87 163.5h4M103 163.5h3M377 163.5h2M764 373.5h2M844 373.5h2M187 139.5h2M208 139.5h2M243 139.5h4M255 139.5h4M279 139.5h4M332 139.5h2M1086 492.5h2M1147 492.5h23M448 217.5h2M641 387.5h2M734 387.5h2M648 392.5h3M726 392.5h2M927 392.5h12M963 392.5h4M307 134.5h4M315 134.5h8M66 157.5h2M645 390.5h2M729 390.5h2M884 390.5h3M907 390.5h12M943 390.5h16M762 374.5h2M846 374.5h2M4 116.5h3M15 116.5h8M126 177.5h2M131 177.5h4M397 177.5h2M176 144.5h2M342 144.5h2M1091 494.5h48M760 375.5h2M848 375.5h3M192 136.5h3M202 136.5h2M291 136.5h12M326 136.5h2M887 391.5h20M919 391.5h8M939 391.5h4M959 391.5h4M178 143.5h2M219 143.5h12M340 143.5h2M811 367.5h12M195 135.5h7M303 135.5h4M323 135.5h3M999 419.5h3M72 162.5h2M91 162.5h4M99 162.5h4M699 396.5h4M718 396.5h2M1002 420.5h2M1041 456.5h2M703 397.5h15M756 377.5h2M854 377.5h2M695 395.5h4M720 395.5h2M736 386.5h2M636 384.5h2M740 384.5h2M414 191.5h2M359 147.5h2M638 385.5h2M738 385.5h2M877 385.5h2M1088 493.5h3M1139 493.5h8M1199 475.5h4M148 170.5h2M182 141.5h2M212 141.5h3M235 141.5h4M267 141.5h8M336 141.5h2M204 137.5h2M287 137.5h4M328 137.5h2M651 393.5h8M663 393.5h8M679 393.5h8M724 393.5h2M967 393.5h2M1037 453.5h2M754 378.5h2M856 378.5h3M180 142.5h2M215 142.5h4M231 142.5h4M338 142.5h2M1211 472.5h12M758 376.5h2M851 376.5h3M76 164.5h11M106 164.5h2M157 164.5h2M1242 466.5h2M7 115.5h8M189 138.5h2M206 138.5h2M247 138.5h8M283 138.5h4M330 138.5h2M1235 468.5h4M1228 469.5h7M1192 478.5h2M453 220.5h2M120 174.5h2M141 174.5h2M393 174.5h2M770 370.5h2M795 370.5h8M838 370.5h2M124 176.5h2M135 176.5h4M64 156.5h2M150 169.5h2M386 169.5h2M772 369.5h7M787 369.5h8M803 369.5h4M831 369.5h7M1005 422.5h2M1082 490.5h2M1172 490.5h2M442 213.5h2M461 226.5h2M122 175.5h2M139 175.5h2M1248 462.5h2M450 218.5h2M732 388.5h2M881 388.5h2M347 146.5h12M109 166.5h2M381 166.5h2M184 140.5h3M210 140.5h2M239 140.5h4M259 140.5h8M275 140.5h4M334 140.5h2M483 240.5h4M491 240.5h3M311 133.5h4M476 237.5h2M457 223.5h2M630 380.5h2M748 380.5h3M863 380.5h4M1182 484.5h2M146 171.5h2M389 171.5h2M116 172.5h2M144 172.5h2M1049 461.5h2M1250 461.5h2M1223 471.5h3M1044 458.5h2M433 206.5h2M1203 474.5h4M996 418.5h3M465 229.5h2M1069 480.5h2M1189 480.5h2M429 203.5h2M440 212.5h2M746 381.5h2M867 381.5h4M480 239.5h3M766 372.5h2M842 372.5h2M473 235.5h2M425 200.5h2M1245 464.5h2M628 379.5h2M751 379.5h3M859 379.5h4M128 178.5h3M1207 473.5h4M1226 470.5h2M469 232.5h2M1196 476.5h3M994 417.5h2M1065 477.5h2M1194 477.5h2M581 328.5h2M445 215.5h2M1239 467.5h3M384 168.5h2M344 145.5h3M509 249.5h2M633 382.5h2M744 382.5h2M871 382.5h3M478 238.5h2M118 173.5h2M153 167.5h2M504 246.5h2M496 242.5h2M742 383.5h2M874 383.5h2M985 410.5h2M659 394.5h4M671 394.5h8M687 394.5h8M722 394.5h2M992 416.5h2M57 151.5h2M1180 485.5h2M506 247.5h2M361 148.5h2M1186 482.5h2M1184 483.5h2M61 154.5h2M25 118.5h2M1077 487.5h2M1177 487.5h2M498 243.5h2M500 244.5h2M1084 491.5h2M1170 491.5h2M372 160.5h2M95 161.5h4M374 161.5h2M613 365.5h2M28 120.5h2M502 245.5h2M33 123.5h2M401 180.5h2M1080 489.5h2M1174 489.5h2M30 121.5h2M412 190.5h2M405 183.5h2M23 117.5h2M417 193.5h2M1033 450.5h2M409.5 186v1M609.5 360v1M45.5 137v2M513.5 252v1M371.5 159v1M590.5 337v1M46.5 139v1M591.5 338v1M554.5 297v2M63.5 155v1M468.5 231v1M616.5 367v1M520.5 259v1M617.5 368v1M408.5 185v1M419.5 194v1M542.5 283v2M602.5 351v2M420.5 195v1M431.5 204v1M583.5 329v1M623.5 374v1M1020.5 437v1M364.5 150v1M41.5 131v2M624.5 375v1M60.5 153v1M44.5 136v1M528.5 267v1M991.5 415v1M1075.5 485v1M170.5 150v1M1076.5 486v1M535.5 275v1M404.5 182v1M564.5 311v1M162.5 159v2M165.5 156v1M112.5 168v1M546.5 288v2M1013.5 429v1M155.5 166v1M143.5 173v1M972.5 397v1M527.5 266v1M622.5 373v1M1043.5 457v1M601.5 350v1M571.5 318v1M1244.5 465v1M611.5 363v1M59.5 152v1M572.5 319v1M464.5 228v1M612.5 364v1M990.5 414v1M534.5 273v2M48.5 142v1M553.5 296v1M979.5 404v1M578.5 325v1M1012.5 428v1M508.5 248v1M108.5 165v1M1027.5 444v1M600.5 349v1M579.5 326v1M563.5 309v2M55.5 149v1M411.5 189v1M463.5 227v1M363.5 149v1M545.5 287v1M586.5 332v2M400.5 179v1M47.5 140v2M70.5 160v1M54.5 148v1M538.5 278v2M459.5 224v1M883.5 389v1M172.5 148v1M603.5 353v1M410.5 187v2M69.5 159v1M1188.5 481v1M1060.5 472v1M515.5 254v1M1071.5 481v1M610.5 361v2M436.5 208v1M437.5 209v1M592.5 339v1M593.5 340v1M376.5 162v1M395.5 175v1M537.5 277v1M566.5 313v1M1052.5 463v1M618.5 369v1M396.5 176v1M567.5 314v1M114.5 170v1M35.5 124v1M366.5 152v2M548.5 291v1M421.5 196v1M974.5 399v1M584.5 330v1M514.5 253v1M36.5 125v1M573.5 320v1M585.5 331v1M625.5 376v1M555.5 299v1M455.5 221v1M574.5 321v1M647.5 391v1M164.5 157v1M536.5 276v1M1014.5 430v2M879.5 386v1M521.5 260v1M51.5 145v1M1015.5 432v1M522.5 261v1M113.5 169v1M1067.5 478v1M432.5 205v1M731.5 389v1M1252.5 460v1M547.5 290v1M1021.5 438v1M973.5 398v1M365.5 151v1M1176.5 488v1M1022.5 439v1M529.5 268v1M1007.5 423v1M49.5 143v1M391.5 172v1M594.5 341v2M1028.5 445v1M1048.5 460v1M980.5 405v1M50.5 144v1M416.5 192v1M595.5 343v1M1029.5 446v1M558.5 302v2M981.5 406v1M428.5 202v1M580.5 327v1M1054.5 465v2M32.5 122v1M159.5 163v1M56.5 150v1M540.5 281v1M1055.5 467v1M1256.5 457v1M643.5 388v1M27.5 119v1M606.5 356v2M587.5 334v1M39.5 129v1M167.5 153v1M1062.5 474v1M427.5 201v1M1039.5 454v1M383.5 167v1M1040.5 455v1M539.5 280v1M620.5 371v1M987.5 411v1M38.5 127v2M475.5 236v1M423.5 198v1M1061.5 473v1M635.5 383v1M516.5 255v1M1072.5 482v1M71.5 161v1M174.5 146v1M517.5 256v1M1073.5 483v1M557.5 301v1M438.5 210v1M460.5 225v1M619.5 370v1M598.5 346v2M1016.5 433v1M561.5 306v2M523.5 262v1M604.5 354v1M1017.5 434v1M969.5 394v1M1053.5 464v1M524.5 263v1M605.5 355v1M568.5 315v1M115.5 171v1M166.5 154v2M367.5 154v1M549.5 292v1M456.5 222v1M975.5 400v1M1035.5 451v1M37.5 126v1M368.5 155v1M550.5 293v1M1024.5 441v1M1008.5 424v1M161.5 161v1M976.5 401v1M556.5 300v1M575.5 322v1M1009.5 425v1M52.5 146v1M983.5 408v1M1255.5 458v1M471.5 233v1M169.5 151v1M422.5 197v1M1068.5 479v1M1079.5 488v1M452.5 219v1M644.5 389v1M626.5 377v1M1023.5 440v1M608.5 359v1M530.5 269v1M531.5 270v1M880.5 387v1M596.5 344v1M1030.5 447v1M982.5 407v1M1247.5 463v1M615.5 366v1M597.5 345v1M1031.5 448v1M407.5 184v1M607.5 358v1M1004.5 421v1M1056.5 468v1M511.5 250v1M1057.5 469v1M512.5 251v1M370.5 157v2M173.5 147v1M876.5 384v1M392.5 173v1M40.5 130v1M447.5 216v1M589.5 336v1M1063.5 475v1M191.5 137v1M467.5 230v1M559.5 304v1M1064.5 476v1M519.5 258v1M560.5 305v1M640.5 386v1M541.5 282v1M111.5 167v1M152.5 168v1M728.5 391v1M971.5 396v1M444.5 214v1M156.5 165v1M588.5 335v1M388.5 170v1M570.5 317v1M43.5 134v2M369.5 156v1M160.5 162v1M1074.5 484v1M989.5 413v1M552.5 295v1M978.5 403v1M518.5 257v1M403.5 181v1M577.5 324v1M970.5 395v1M599.5 348v1M168.5 152v1M569.5 316v1M1191.5 479v1M621.5 372v1M1018.5 435v1M632.5 381v1M525.5 264v1M988.5 412v1M544.5 286v1M1019.5 436v1M424.5 199v1M526.5 265v1M551.5 294v1M1025.5 442v1M439.5 211v1M532.5 271v1M171.5 149v1M1026.5 443v1M562.5 308v1M533.5 272v1M1011.5 427v1M1179.5 486v1M379.5 164v1M1036.5 452v1M1058.5 470v1M380.5 165v1M163.5 158v1M399.5 178v1M68.5 158v1M977.5 402v1M627.5 378v1M1059.5 471v1M42.5 133v1M576.5 323v1M1010.5 426v1M435.5 207v1M53.5 147v1M984.5 409v1M472.5 234v1M543.5 285v1M175.5 145v1M565.5 312v1M1032.5 449v1M1051.5 462v1" fill="none" stroke="#0000cd" stroke-width="1"/>
<path d="M194 146.5h2M209 146.5h2M1192 462.5h2M1091 500.5h12M1111 500.5h2M122 137.5h2M222 137.5h2M243 137.5h2M268 137.5h2M285 137.5h2M325 137.5h2M129 129.5h2M141 129.5h2M1024 487.5h2M1142 487.5h2M1155 487.5h4M726 386.5h2M900 386.5h3M907 386.5h4M1196 460.5h7M1236 460.5h9M72 231.5h5M446 231.5h2M228 134.5h3M248 134.5h3M259 134.5h4M289 134.5h2M307 134.5h4M315 134.5h4M251 133.5h8M303 133.5h4M311 133.5h4M610 392.5h2M614 392.5h2M626 392.5h2M700 392.5h2M863 392.5h4M871 392.5h7M920 392.5h3M930 392.5h2M632 395.5h2M679 395.5h12M839 395.5h4M851 395.5h4M882 395.5h2M886 395.5h2M648 403.5h3M654 403.5h2M604 389.5h2M721 389.5h2M640 400.5h3M660 400.5h3M224 136.5h2M233 136.5h2M245 136.5h2M266 136.5h2M323 136.5h2M175 142.5h3M606 390.5h2M619 390.5h4M704 390.5h17M917 390.5h2M953 390.5h2M1028 489.5h3M1043 489.5h8M1054 489.5h2M1132 489.5h3M1223 456.5h7M1249 456.5h2M170 144.5h2M14 100.5h2M132 127.5h3M138 127.5h2M4 97.5h6M226 135.5h2M231 135.5h2M263 135.5h3M319 135.5h4M414 227.5h2M425 227.5h2M436 227.5h2M1026 488.5h2M1051 488.5h3M1135 488.5h7M569 370.5h2M802 370.5h2M643 401.5h3M658 401.5h2M612 393.5h2M628 393.5h2M698 393.5h2M859 393.5h4M867 393.5h4M878 393.5h2M890 393.5h2M923 393.5h7M957 393.5h2M168 145.5h2M192 145.5h2M1058 491.5h2M1128 491.5h2M1087 499.5h4M1113 499.5h2M804 371.5h3M198 148.5h2M203 148.5h4M590 382.5h2M821 382.5h2M160 149.5h5M200 149.5h3M340 149.5h2M500 261.5h2M416 228.5h9M438 228.5h2M1072 496.5h3M1118 496.5h2M1203 459.5h4M1234 459.5h2M1245 459.5h2M599 385.5h2M825 385.5h2M903 385.5h4M118 139.5h2M272 139.5h7M282 139.5h2M172 143.5h3M189 143.5h2M213 143.5h2M1166 484.5h2M608 391.5h2M616 391.5h3M623 391.5h3M702 391.5h2M630 394.5h2M691 394.5h7M836 394.5h3M855 394.5h4M880 394.5h2M888 394.5h2M120 138.5h2M149 138.5h2M220 138.5h2M236 138.5h7M270 138.5h2M1207 458.5h4M1232 458.5h2M178 141.5h2M186 141.5h2M494 257.5h2M771 346.5h4M779 346.5h2M671 397.5h4M353 158.5h2M761 351.5h2M1079 498.5h8M412 226.5h2M434 226.5h2M1060 492.5h2M764 349.5h2M829 388.5h2M896 388.5h2M914 388.5h2M634 396.5h2M675 396.5h4M843 396.5h8M884 396.5h2M112 140.5h6M180 140.5h6M217 140.5h2M279 140.5h3M329 140.5h2M505 264.5h2M1144 486.5h11M1159 486.5h4M196 147.5h2M207 147.5h2M337 147.5h2M1173 480.5h2M292 132.5h11M578 375.5h2M572 372.5h2M807 372.5h4M1163 485.5h3M484 253.5h2M595 384.5h4M729 384.5h2M946 384.5h2M1103 501.5h8M1194 461.5h2M428 225.5h6M581 377.5h2M10 98.5h2M443 230.5h3M1064 494.5h6M1123 494.5h2M663 399.5h4M1031 490.5h12M1056 490.5h2M1130 490.5h2M1211 457.5h12M1230 457.5h2M351 157.5h2M1181 473.5h2M502 262.5h2M453 235.5h2M497 259.5h2M488 255.5h3M491 256.5h3M482 252.5h2M476 249.5h2M588 381.5h2M749 361.5h2M766 348.5h2M724 387.5h2M898 387.5h2M911 387.5h3M592 383.5h3M940 383.5h6M470 245.5h2M637 398.5h2M667 398.5h4M775 345.5h4M403 215.5h2M646 402.5h2M656 402.5h2M480 251.5h2M1075 497.5h4M1116 497.5h2M397 212.5h2M473 247.5h2M377 195.5h2M467 244.5h3M135 126.5h3M1062 493.5h2M1125 493.5h2M768 347.5h3M385 202.5h2M753 358.5h2M400 214.5h3M348 156.5h3M486 254.5h2M478 250.5h2M574 373.5h2M811 373.5h2M576 374.5h2M797 367.5h2M584 379.5h2M464 243.5h3M342 150.5h2M586 380.5h2M1168 483.5h2M389 205.5h2M800 369.5h2M448 232.5h2M450 233.5h2M440 229.5h3M1070 495.5h2M1120 495.5h3M651 404.5h3M1170 482.5h2M461 241.5h2M457 238.5h2M12 99.5h2M167.5 146v1M892.5 392v1M44.5 164v3M375.5 193v1M527.5 289v2M1004.5 462v1M549.5 335v2M37.5 140v4M140.5 128v1M531.5 296v2M965.5 400v1M368.5 180v2M371.5 186v2M1005.5 463v1M38.5 144v3M216.5 141v1M969.5 405v2M98.5 175v4M89.5 205v3M102.5 161v4M23.5 109v2M41.5 154v3M396.5 211v1M34.5 132v2M54.5 199v3M733.5 381v1M559.5 354v2M1191.5 463v1M934.5 389v1M97.5 179v3M370.5 184v2M47.5 175v4M949.5 386v1M101.5 165v4M125.5 134v2M919.5 391v1M534.5 302v2M155.5 144v1M556.5 347v2M516.5 275v1M48.5 179v3M1251.5 455v1M374.5 191v2M950.5 387v1M105.5 152v2M530.5 294v2M1179.5 475v1M367.5 178v2M62.5 216v2M356.5 160v1M93.5 192v4M51.5 189v4M968.5 404v1M1015.5 476v2M783.5 349v1M1018.5 480v2M541.5 317v2M1008.5 467v1M381.5 198v1M794.5 363v2M832.5 390v1M40.5 151v3M741.5 370v1M1019.5 482v1M33.5 129v3M558.5 351v3M459.5 239v1M128.5 130v1M407.5 219v1M109.5 144v1M460.5 240v1M369.5 182v2M760.5 352v1M84.5 217v3M548.5 333v2M1186.5 469v1M533.5 300v2M154.5 142v2M100.5 169v3M938.5 385v1M1183.5 472v1M552.5 340v1M526.5 288v1M355.5 159v1M50.5 186v3M971.5 408v2M25.5 113v2M58.5 209v2M61.5 214v2M83.5 220v2M744.5 366v1M508.5 266v1M1255.5 451v1M456.5 237v1M831.5 389v1M287.5 136v1M540.5 315v2M793.5 362v1M291.5 133v1M88.5 208v3M104.5 154v3M960.5 395v1M92.5 196v3M166.5 147v1M411.5 224v2M79.5 228v1M537.5 309v2M555.5 345v2M211.5 145v1M816.5 377v1M993.5 445v2M366.5 176v2M43.5 161v3M551.5 338v2M519.5 279v1M96.5 182v3M215.5 142v1M64.5 220v1M1007.5 466v1M380.5 197v1M525.5 286v2M504.5 263v1M751.5 360v1M391.5 206v1M57.5 207v2M65.5 221v1M562.5 361v2M728.5 385v1M455.5 236v1M1177.5 477v1M392.5 207v1M755.5 357v1M124.5 136v1M127.5 131v2M191.5 144v1M499.5 260v1M786.5 352v2M732.5 382v1M108.5 145v2M95.5 185v4M956.5 392v1M933.5 390v1M406.5 217v2M53.5 196v3M99.5 172v3M739.5 372v2M995.5 449v2M514.5 272v2M372.5 188v2M410.5 223v1M996.5 451v1M554.5 343v2M332.5 142v1M42.5 157v4M518.5 277v2M376.5 194v1M547.5 331v2M82.5 222v2M91.5 199v3M827.5 386v1M970.5 407v1M63.5 218v2M157.5 146v1M365.5 174v2M992.5 443v2M219.5 139v1M60.5 213v1M529.5 292v2M358.5 162v2M955.5 391v1M1006.5 464v2M936.5 387v1M974.5 412v2M87.5 211v2M36.5 137v3M56.5 205v2M46.5 171v4M561.5 359v2M49.5 182v4M1188.5 467v1M90.5 202v3M1020.5 483v1M405.5 216v1M1253.5 453v1M539.5 313v2M39.5 147v4M796.5 366v1M1021.5 484v1M536.5 306v3M32.5 127v2M52.5 193v3M557.5 349v2M409.5 221v2M387.5 203v1M550.5 337v1M59.5 211v2M364.5 172v2M999.5 455v1M496.5 258v1M1010.5 469v2M357.5 161v1M327.5 138v1M735.5 378v1M738.5 374v1M45.5 167v4M542.5 319v3M916.5 389v1M328.5 139v1M111.5 141v1M339.5 148v1M759.5 353v1M833.5 391v1M131.5 128v1M383.5 200v1M1185.5 470v1M78.5 229v1M553.5 341v2M31.5 125v2M517.5 276v1M994.5 447v2M951.5 388v1M103.5 157v4M94.5 189v3M546.5 329v2M757.5 355v1M962.5 397v1M16.5 101v1M991.5 441v2M746.5 364v1M107.5 147v2M1172.5 481v1M17.5 102v1M472.5 246v1M28.5 119v2M987.5 434v2M66.5 222v2M563.5 363v2M55.5 202v3M784.5 350v1M361.5 166v2M67.5 224v1M1009.5 468v1M382.5 199v1M564.5 365v1M583.5 378v1M785.5 351v1M973.5 411v1M509.5 267v1M538.5 311v2M106.5 149v3M394.5 209v1M1013.5 473v2M81.5 224v2M510.5 268v1M601.5 386v1M408.5 220v1M961.5 396v1M86.5 213v2M30.5 123v2M998.5 453v2M545.5 327v2M1176.5 478v1M817.5 378v1M828.5 387v1M972.5 410v1M734.5 379v2M520.5 280v1M126.5 133v1M983.5 427v2M935.5 388v1M818.5 379v1M893.5 391v1M984.5 429v1M1248.5 457v1M560.5 356v3M360.5 165v1M393.5 208v1M1252.5 454v1M145.5 132v2M151.5 139v1M737.5 375v2M997.5 452v1M452.5 234v1M333.5 143v1M571.5 371v1M152.5 140v1M27.5 117v2M544.5 324v3M110.5 142v2M990.5 439v2M363.5 170v2M334.5 144v1M1001.5 457v2M158.5 147v1M979.5 420v2M1187.5 468v1M69.5 226v2M80.5 226v2M359.5 164v1M159.5 148v1M787.5 354v1M975.5 414v1M1012.5 472v1M976.5 415v1M247.5 135v1M791.5 359v2M144.5 131v1M824.5 384v1M284.5 138v1M1190.5 464v2M388.5 204v1M1023.5 486v1M288.5 135v1M18.5 103v1M26.5 115v2M986.5 432v2M989.5 437v2M362.5 168v2M235.5 137v1M523.5 284v1M19.5 104v1M978.5 418v2M143.5 130v1M982.5 425v2M565.5 366v1M1011.5 471v1M68.5 225v1M566.5 367v1M147.5 135v2M748.5 362v1M1022.5 485v1M511.5 269v1M745.5 365v1M937.5 386v1M512.5 270v1M895.5 389v1M399.5 213v1M603.5 388v1M29.5 121v2M813.5 374v1M952.5 389v1M740.5 371v1M188.5 142v1M963.5 398v1M1000.5 456v1M344.5 151v1M964.5 399v1M985.5 430v2M212.5 144v1M820.5 381v1M165.5 148v1M823.5 383v1M790.5 358v1M834.5 392v1M763.5 350v1M752.5 359v1M384.5 201v1M395.5 210v1M835.5 393v1M1127.5 492v1M1178.5 476v1M756.5 356v1M736.5 377v1M1254.5 452v1M1003.5 460v2M522.5 282v2M988.5 436v1M1247.5 458v1M743.5 367v1M463.5 242v1M981.5 423v2M71.5 229v2M819.5 380v1M336.5 146v1M22.5 108v1M35.5 134v3M789.5 356v2M1014.5 475v1M602.5 387v1M146.5 134v1M639.5 399v1M1189.5 466v1M515.5 274v1M373.5 190v1M335.5 145v1M521.5 281v1M932.5 391v1M580.5 376v1M532.5 298v2M966.5 401v2M153.5 141v1M977.5 416v2M543.5 322v2M731.5 383v1M967.5 403v1M980.5 422v1M21.5 106v2M782.5 348v1M70.5 228v1M788.5 355v1M507.5 265v1M636.5 397v1M535.5 304v2M948.5 385v1M959.5 394v1M1115.5 498v1M1002.5 459v1M346.5 153v2M815.5 376v1M723.5 388v1M24.5 111v2M1180.5 474v1M347.5 155v1M781.5 347v1M758.5 354v1M379.5 196v1M85.5 215v2M747.5 363v1M1184.5 471v1M1016.5 478v1M792.5 361v1M1017.5 479v1M742.5 368v2M568.5 369v1M513.5 271v1M799.5 368v1M814.5 375v1M331.5 141v1M524.5 285v1M345.5 152v1M939.5 384v1M20.5 105v1M77.5 230v1M156.5 145v1M528.5 291v1M567.5 368v1M148.5 137v1M427.5 226v1M1256.5 450v1M894.5 390v1M475.5 248v1M1175.5 479v1M795.5 365v1" fill="none" stroke="#ff0000" stroke-width="1"/>
<path d="M148 117.5h3M220 117.5h3M376 231.5h2M417 231.5h2M437 231.5h2M124 182.5h2M395 218.5h4M403 218.5h3M648 414.5h3M653 414.5h2M606 404.5h2M611 404.5h2M144 119.5h2M217 119.5h2M290 129.5h2M1188 435.5h5M794 383.5h2M560 381.5h3M684 381.5h2M744 324.5h3M1014 487.5h2M1157 487.5h2M747 325.5h2M934 389.5h2M1213 473.5h2M276 134.5h2M308 134.5h2M316 134.5h3M280 132.5h6M1100 491.5h3M1143 491.5h2M1216 475.5h5M844 410.5h2M489 260.5h2M351 176.5h6M651 415.5h2M165 148.5h2M563 382.5h6M686 382.5h2M792 382.5h2M278 133.5h2M552 376.5h3M583 376.5h2M678 376.5h2M906 376.5h2M548 378.5h2M421 234.5h2M442 234.5h2M286 131.5h2M479 265.5h6M496 261.5h2M608 403.5h3M613 403.5h2M180 156.5h9M241 156.5h2M996 484.5h7M1009 484.5h2M1109 484.5h2M1163 484.5h2M572 387.5h5M923 387.5h2M937 387.5h2M920 386.5h3M942 386.5h2M380 233.5h3M440 233.5h2M555 375.5h2M908 375.5h5M472 266.5h7M413 228.5h2M631 391.5h2M940 385.5h2M424 236.5h5M446 236.5h2M172 159.5h3M988 480.5h3M1048 480.5h3M1127 480.5h2M399 219.5h4M406 219.5h2M1028 501.5h3M175 160.5h2M625 390.5h2M928 390.5h6M432 230.5h5M1003 483.5h6M1115 483.5h4M273 136.5h2M299 136.5h7M312 136.5h2M993 482.5h2M1112 482.5h3M1119 482.5h4M348 177.5h3M1012 486.5h2M1079 515.5h3M340 170.5h2M126 181.5h2M196 146.5h3M925 388.5h2M945 388.5h2M288 130.5h2M1103 490.5h2M1153 490.5h2M500 263.5h5M493 259.5h2M342 171.5h2M444 235.5h2M1243 448.5h2M1140 492.5h3M1145 492.5h2M761 350.5h2M550 377.5h2M580 377.5h3M676 377.5h2M904 377.5h2M296 135.5h3M306 135.5h2M310 135.5h2M314 135.5h2M319 135.5h2M498 262.5h2M700 400.5h13M836 412.5h6M884 412.5h3M891 412.5h2M1149 493.5h2M887 413.5h4M1160 485.5h3M864 368.5h2M846 409.5h2M1076 514.5h3M1082 514.5h2M1086 514.5h2M866 367.5h2M1229 463.5h2M713 399.5h2M260 127.5h5M1051 479.5h2M146 118.5h2M151 118.5h2M628 392.5h3M378 232.5h2M383 232.5h2M1240 449.5h3M775 361.5h3M769 358.5h2M1084 513.5h2M697 398.5h2M991 481.5h2M1123 481.5h4M1129 481.5h2M223 116.5h2M604 405.5h2M199 145.5h2M772 360.5h3M392 217.5h3M842 411.5h2M778 362.5h2M1031 500.5h2M107.5 91v5M1042.5 489v2M33.5 179v4M73.5 216v6M850.5 402v3M726.5 374v2M141.5 127v3M540.5 363v2M43.5 228v5M36.5 191v5M1199.5 448v3M65.5 250v6M326.5 146v3M56.5 285v2M688.5 383v1M1156.5 488v1M859.5 381v2M323.5 140v2M1106.5 487v2M359.5 180v1M1034.5 498v1M692.5 388v2M117.5 155v4M1221.5 473v2M1172.5 467v2M1026.5 499v1M26.5 153v4M208.5 132v1M1237.5 453v2M82.5 169v7M392.5 218v1M68.5 235v4M29.5 166v3M960.5 410v2M978.5 456v3M49.5 260v5M1168.5 475v2M189.5 154v2M738.5 332v3M86.5 143v6M32.5 175v4M915.5 380v2M204.5 139v1M985.5 475v2M717.5 395v2M369.5 205v5M162.5 142v2M227.5 121v2M463.5 255v2M228.5 123v2M896.5 400v3M1094.5 503v3M1224.5 469v1M1244.5 447v1M231.5 132v3M22.5 137v3M725.5 376v3M904.5 378v1M663.5 400v2M429.5 234v2M140.5 130v3M683.5 379v2M72.5 222v4M504.5 264v1M522.5 316v3M64.5 256v4M38.5 202v6M131.5 167v4M77.5 195v4M505.5 265v2M952.5 396v2M756.5 341v2M659.5 408v1M511.5 280v3M831.5 406v2M514.5 289v3M485.5 264v1M91.5 101v9M391.5 219v3M106.5 87v4M1231.5 462v1M158.5 132v3M637.5 397v2M135.5 147v5M81.5 176v6M59.5 274v4M85.5 149v7M89.5 119v9M203.5 140v2M448.5 237v1M44.5 233v5M621.5 393v2M861.5 375v3M569.5 383v1M94.5 87v4M895.5 403v3M372.5 220v4M324.5 142v2M1200.5 451v3M249.5 147v3M71.5 226v3M693.5 390v2M325.5 144v2M116.5 149v6M55.5 283v2M690.5 385v2M234.5 141v3M139.5 133v3M63.5 260v4M118.5 159v5M883.5 406v4M675.5 378v1M749.5 326v2M245.5 156v2M331.5 158v2M410.5 223v2M332.5 160v1M364.5 191v3M658.5 409v2M804.5 384v1M48.5 255v5M852.5 397v3M14.5 115v2M528.5 335v3M983.5 470v3M368.5 201v4M226.5 119v2M90.5 110v9M390.5 222v2M229.5 125v3M134.5 152v6M66.5 245v5M876.5 379v3M969.5 428v3M143.5 121v3M108.5 96v6M535.5 352v2M23.5 140v4M84.5 156v7M860.5 378v3M879.5 390v4M168.5 150v2M520.5 309v3M557.5 376v2M1173.5 465v2M214.5 122v2M37.5 196v6M1036.5 496v1M248.5 150v2M523.5 319v4M542.5 367v3M1091.5 510v2M70.5 229v3M137.5 140v3M1182.5 442v2M243.5 157v1M510.5 276v4M153.5 120v2M674.5 379v2M829.5 402v2M802.5 386v1M111.5 117v7M244.5 158v1M1047.5 481v2M256.5 132v1M129.5 175v4M121.5 172v3M112.5 124v7M105.5 82v5M1134.5 485v2M898.5 394v3M30.5 169v3M157.5 130v2M962.5 414v2M252.5 139v2M570.5 384v2M142.5 124v3M450.5 239v2M571.5 386v1M133.5 158v5M79.5 187v4M666.5 393v3M164.5 146v2M385.5 231v1M848.5 407v2M88.5 128v8M750.5 328v2M408.5 220v1M975.5 447v3M92.5 95v6M751.5 330v2M330.5 156v2M882.5 402v4M423.5 235v1M939.5 386v1M363.5 188v3M239.5 153v2M856.5 387v3M12.5 111v2M1180.5 446v3M87.5 136v7M13.5 113v2M1062.5 492v1M954.5 400v2M1046.5 483v2M61.5 267v4M758.5 345v2M128.5 179v2M527.5 332v3M927.5 389v1M897.5 397v3M19.5 127v3M533.5 348v2M875.5 377v2M251.5 141v3M516.5 295v3M534.5 350v2M467.5 260v1M735.5 340v4M558.5 378v1M559.5 379v2M519.5 305v4M1095.5 501v2M1111.5 483v1M1225.5 468v1M78.5 191v4M1155.5 489v1M46.5 244v5M1236.5 455v1M901.5 385v3M764.5 352v1M855.5 390v2M1179.5 449v3M1071.5 507v2M963.5 416v2M486.5 263v1M786.5 374v2M798.5 386v1M964.5 418v2M787.5 376v1M863.5 370v3M452.5 242v1M177.5 159v1M1176.5 457v3M816.5 380v1M265.5 128v2M820.5 385v2M974.5 444v3M110.5 109v8M977.5 453v3M1090.5 512v1M238.5 151v2M1208.5 467v1M1060.5 489v1M1063.5 493v2M1209.5 468v1M1147.5 493v1M671.5 383v2M956.5 404v1M1064.5 495v1M599.5 395v2M760.5 349v1M853.5 395v2M647.5 412v2M123.5 178v3M1193.5 436v2M515.5 292v3M459.5 249v1M1194.5 438v1M469.5 262v1M387.5 229v1M470.5 263v2M1255.5 425v2M733.5 348v4M1201.5 454v2M724.5 379v3M130.5 171v4M358.5 178v2M1215.5 474v1M62.5 264v3M1089.5 513v2M76.5 199v5M803.5 385v1M869.5 367v1M1251.5 432v2M980.5 462v3M670.5 385v2M785.5 373v1M365.5 194v2M41.5 219v5M1074.5 511v2M984.5 473v2M51.5 269v5M728.5 368v3M987.5 478v2M230.5 128v4M80.5 182v5M219.5 118v1M109.5 102v7M818.5 382v2M275.5 135v1M267.5 131v2M233.5 138v3M24.5 144v4M1035.5 497v1M822.5 389v2M195.5 147v1M334.5 162v1M506.5 267v2M597.5 391v2M1065.5 496v2M255.5 133v2M951.5 394v2M1211.5 471v1M807.5 381v1M190.5 153v1M101.5 74v2M781.5 365v2M936.5 388v1M579.5 379v2M1250.5 434v2M639.5 401v2M160.5 137v3M636.5 396v1M727.5 371v3M471.5 265v1M34.5 183v4M1039.5 493v1M541.5 365v2M662.5 402v2M360.5 181v2M979.5 459v3M1075.5 513v1M16.5 119v2M578.5 381v3M530.5 340v3M74.5 210v6M791.5 381v1M986.5 477v1M1164.5 483v1M114.5 137v6M201.5 143v2M170.5 154v2M132.5 163v4M1053.5 480v1M4.5 100v1M589.5 381v1M336.5 164v1M1212.5 472v1M100.5 73v1M337.5 165v2M152.5 119v1M104.5 79v3M656.5 412v1M730.5 360v4M1167.5 477v2M96.5 80v3M159.5 135v2M42.5 224v4M638.5 399v2M641.5 404v1M52.5 274v4M734.5 344v4M618.5 398v1M25.5 148v5M492.5 258v1M694.5 392v2M1183.5 440v2M257.5 131v1M525.5 326v3M753.5 334v2M411.5 225v2M99.5 74v2M721.5 387v3M1139.5 491v1M789.5 378v1M529.5 338v2M454.5 244v1M21.5 133v4M877.5 382v4M455.5 245v1M386.5 230v1M1174.5 462v3M169.5 152v2M849.5 405v2M272.5 137v1M416.5 230v1M211.5 126v2M338.5 167v1M154.5 122v3M830.5 404v2M119.5 164v4M741.5 327v1M1131.5 482v1M67.5 239v6M763.5 351v1M207.5 133v2M796.5 384v1M31.5 172v3M439.5 232v1M1097.5 496v2M1247.5 440v2M115.5 143v6M1223.5 470v2M194.5 148v1M412.5 227v1M752.5 332v2M345.5 173v1M210.5 128v2M1181.5 444v2M732.5 352v4M524.5 323v3M47.5 249v6M346.5 174v2M75.5 204v6M601.5 399v2M513.5 286v3M598.5 393v2M759.5 347v2M206.5 135v2M20.5 130v3M167.5 149v1M178.5 158v1M457.5 247v1M517.5 298v4M58.5 278v3M202.5 142v1M715.5 398v1M814.5 377v2M1196.5 441v2M665.5 396v2M93.5 91v4M544.5 372v2M83.5 163v6M374.5 226v2M1203.5 458v2M661.5 404v2M731.5 356v4M1016.5 488v1M1133.5 484v1M982.5 468v2M868.5 366v1M765.5 353v1M657.5 411v1M367.5 199v2M205.5 137v2M389.5 224v3M965.5 420v2M250.5 144v3M370.5 210v5M623.5 390v2M971.5 435v3M881.5 398v4M430.5 233v1M1256.5 424v1M266.5 130v1M619.5 396v2M585.5 377v1M824.5 393v1M1011.5 485v1M660.5 406v2M900.5 388v3M39.5 208v6M953.5 398v2M120.5 168v4M854.5 392v3M600.5 397v2M1068.5 501v2M801.5 387v1M512.5 283v3M862.5 373v2M35.5 187v4M1175.5 460v2M1195.5 439v2M543.5 370v2M680.5 375v1M808.5 380v1M1202.5 456v2M1205.5 461v2M833.5 409v1M1018.5 490v2M362.5 186v2M884.5 410v2M834.5 410v1M1135.5 487v1M767.5 356v1M981.5 465v3M873.5 373v2M451.5 241v1M729.5 364v4M1040.5 492v1M95.5 83v4M970.5 431v4M880.5 394v4M215.5 121v1M521.5 312v4M495.5 260v1M823.5 391v2M826.5 396v2M587.5 379v1M507.5 269v2M240.5 155v1M335.5 163v1M955.5 402v2M1066.5 498v1M1235.5 456v2M339.5 168v2M1178.5 452v2M720.5 390v2M122.5 175v3M1096.5 498v3M914.5 378v2M161.5 140v2M1246.5 442v3M461.5 251v2M371.5 215v5M327.5 149v2M1108.5 485v1M419.5 232v1M236.5 147v2M9.5 105v2M696.5 396v2M976.5 450v3M420.5 233v1M27.5 157v5M361.5 183v3M755.5 339v2M1169.5 473v2M1020.5 493v1M871.5 370v1M1137.5 489v1M1234.5 458v1M872.5 371v2M1138.5 490v1M1177.5 454v3M453.5 243v1M878.5 386v4M1245.5 445v2M537.5 357v2M171.5 156v2M269.5 134v1M247.5 152v2M270.5 135v1M509.5 273v3M723.5 382v3M415.5 229v1M1054.5 481v1M5.5 101v1M780.5 363v2M577.5 384v2M622.5 392v1M669.5 387v2M460.5 250v1M851.5 400v2M212.5 125v1M246.5 154v2M235.5 144v3M695.5 394v2M742.5 326v1M526.5 329v3M69.5 232v3M344.5 172v1M136.5 143v4M254.5 135v2M366.5 196v3M800.5 388v1M15.5 117v2M113.5 131v6M995.5 483v1M603.5 403v2M790.5 379v2M668.5 389v2M518.5 302v3M539.5 361v2M1041.5 491v1M536.5 354v3M1186.5 437v1M456.5 246v1M172.5 158v1M812.5 375v1M322.5 138v2M1198.5 446v2M45.5 238v6M813.5 376v1M944.5 387v1M858.5 383v2M1105.5 489v1M192.5 150v1M102.5 76v1M1151.5 492v1M1171.5 469v2M28.5 162v4M103.5 77v2M899.5 391v3M1044.5 487v1M253.5 137v2M737.5 335v2M966.5 422v2M716.5 397v1M667.5 391v2M903.5 379v3M1239.5 450v2M857.5 385v2M191.5 151v2M17.5 121v3M602.5 401v2M719.5 392v2M624.5 389v1M655.5 413v1M736.5 337v3M1226.5 466v2M431.5 231v2M894.5 406v2M54.5 280v3M321.5 136v2M1197.5 443v3M902.5 382v3M138.5 136v4M545.5 374v1M617.5 399v2M375.5 228v2M1207.5 465v2M491.5 259v1M1058.5 486v1M832.5 408v1M293.5 129v2M1233.5 459v2M40.5 214v5M50.5 265v4M225.5 117v2M766.5 354v2M864.5 369v1M642.5 405v1M968.5 426v2M643.5 406v1M646.5 410v2M468.5 261v1M57.5 281v4M893.5 408v3M259.5 128v1M672.5 382v1M699.5 399v1M806.5 382v1M825.5 394v2M1023.5 496v1M828.5 400v2M586.5 378v1M783.5 369v2M957.5 405v2M156.5 127v3M124.5 181v1M388.5 227v2M163.5 144v2M216.5 120v1M1187.5 436v1M53.5 278v2M376.5 230v1M817.5 381v1M547.5 377v1M1056.5 483v1M373.5 224v2M1033.5 499v1M329.5 154v2M7.5 103v1M1057.5 484v2M258.5 129v2M592.5 384v1M8.5 104v1M1206.5 463v2M949.5 391v2M193.5 149v1M11.5 109v2M593.5 385v1M292.5 128v1M596.5 389v2M295.5 133v2M797.5 385v1M870.5 368v2M1045.5 485v2M60.5 271v3M18.5 124v3M532.5 345v3M644.5 407v1M1228.5 464v1M645.5 408v2M664.5 398v2M1037.5 495v1M268.5 133v1M827.5 398v2M508.5 271v2M1170.5 471v2M1025.5 498v1M1067.5 499v2M959.5 408v2M155.5 125v2M1070.5 505v2M782.5 367v2M458.5 248v1M462.5 253v2M1222.5 472v1M819.5 384v1M973.5 441v3M1093.5 506v2M682.5 378v1M947.5 389v1M1238.5 452v1M328.5 151v3M948.5 390v1M237.5 149v2M594.5 386v2M1017.5 489v1M488.5 261v1M531.5 343v2M799.5 387v1M1165.5 481v2M179.5 157v1M538.5 359v2M1092.5 508v2M1254.5 427v2M673.5 381v1M1069.5 503v2M961.5 412v2M913.5 376v2M464.5 257v1M232.5 135v3M681.5 376v2M972.5 438v3M810.5 377v2M1152.5 491v1M805.5 383v1M1019.5 492v1M615.5 402v1M1253.5 429v2M722.5 385v2M754.5 336v3M835.5 411v1M768.5 357v1M739.5 330v2M634.5 393v2M144.5 120v1M1249.5 436v2M1099.5 492v2M691.5 387v1M809.5 379v1M588.5 380v1M1098.5 494v2M640.5 403v1M1248.5 438v2M918.5 384v1M1227.5 465v1M967.5 424v2M919.5 385v1M466.5 259v1M1021.5 494v1M1022.5 495v1M1132.5 483v1M1166.5 479v2M576.5 386v1M689.5 384v1M271.5 136v1M815.5 379v1M409.5 221v2M546.5 375v2M1055.5 482v1M1027.5 500v1M590.5 382v1M6.5 102v1M1088.5 515v1M591.5 383v1M1059.5 487v2M487.5 262v1M10.5 107v2M294.5 131v2M98.5 76v2M620.5 395v1M1185.5 438v1M811.5 376v1M1024.5 497v1M740.5 328v2M784.5 371v2M97.5 78v2M449.5 238v1M1043.5 488v1M1038.5 494v1M213.5 124v1M1107.5 486v1M821.5 387v2M743.5 325v1M1252.5 431v1M333.5 161v1M1061.5 490v2M209.5 130v2M1210.5 469v2M757.5 343v2M874.5 375v2M718.5 394v1M1159.5 486v1M580.5 378v1M347.5 176v1M771.5 359v1M1136.5 488v1M1232.5 461v1M1204.5 460v1M595.5 388v1M633.5 392v1M616.5 401v1M357.5 177v1M1072.5 509v1M958.5 407v1M1073.5 510v1M788.5 377v1M916.5 382v1M917.5 383v1M465.5 258v1M892.5 411v1M1184.5 439v1M950.5 393v1M1148.5 494v1M635.5 395v1M627.5 391v1" fill="none" stroke="#ffa500" stroke-width="1"/>
</g>
<g shape-rendering="crispEdges">
<rect x="4" y="307" width="1576" height="2" fill="#ff0000"/>
<rect x="4" y="362" width="1576" height="2" fill="#ff0000"/>
<rect x="3" y="360" width="6" height="6" fill="#ff0000"/><rect x="5" y="362" width="2" height="2" fill="#fff"/>
<rect x="1574" y="360" width="6" height="6" fill="#ff0000"/><rect x="1576" y="362" width="2" height="2" fill="#fff"/>
<rect x="4" y="418" width="1576" height="2" fill="#00ff00"/>
<rect x="3" y="416" width="6" height="6" fill="#00ff00"/><rect x="5" y="418" width="2" height="2" fill="#fff"/>
<rect x="1574" y="416" width="6" height="6" fill="#00ff00"/><rect x="1576" y="418" width="2" height="2" fill="#fff"/>
<rect x="4" y="478" width="1576" height="2" fill="#0000ff"/>
<rect x="3" y="476" width="6" height="6" fill="#0000ff"/><rect x="5" y="478" width="2" height="2" fill="#fff"/>
<rect x="1574" y="476" width="6" height="6" fill="#0000ff"/><rect x="1576" y="478" width="2" height="2" fill="#fff"/>
<rect x="4" y="540" width="1576" height="2" fill="#0000ff"/>
<rect x="3" y="538" width="6" height="6" fill="#0000ff"/><rect x="5" y="540" width="2" height="2" fill="#fff"/>
<rect x="1574" y="538" width="6" height="6" fill="#0000ff"/><rect x="1576" y="540" width="2" height="2" fill="#fff"/>
</g>
<g shape-rendering="crispEdges">
<path d="M136 596.5h2M208 596.5h3M215 596.5h3M852 596.5h3M861 596.5h2M1227 596.5h2M409 614.5h2M453 614.5h2M481 614.5h2M499 614.5h3M568 614.5h3M573 614.5h2M643 614.5h2M832 614.5h3M138 597.5h2M143 597.5h2M206 597.5h2M211 597.5h4M218 597.5h2M223 597.5h2M855 597.5h6M1239 597.5h2M133 598.5h2M140 598.5h3M204 598.5h2M220 598.5h3M248 598.5h5M675 598.5h2M763 598.5h2M1236 598.5h3M234 612.5h2M328 612.5h7M338 612.5h2M343 612.5h2M387 612.5h3M416 612.5h2M439 612.5h4M447 612.5h4M576 612.5h3M635 612.5h2M784 612.5h3M816 612.5h2M828 612.5h2M952 612.5h9M1034 612.5h2M63 608.5h3M352 608.5h3M622 608.5h2M685 608.5h2M698 608.5h2M703 608.5h2M1132 608.5h3M1138 608.5h2M1216 608.5h2M112 610.5h2M324 610.5h2M377 610.5h2M392 610.5h7M420 610.5h7M608 610.5h3M626 610.5h2M840 610.5h3M948 610.5h2M1039 610.5h2M6 604.5h3M125 604.5h2M167 604.5h2M177 604.5h2M184 604.5h3M191 604.5h3M256 604.5h2M270 604.5h2M656 604.5h3M715 604.5h2M776 604.5h3M806 604.5h2M811 604.5h2M868 604.5h3M926 604.5h2M930 604.5h2M941 604.5h2M1104 604.5h3M1211 604.5h2M120 606.5h3M159 606.5h4M488 606.5h3M688 606.5h5M768 606.5h6M797 606.5h2M919 606.5h2M1047 606.5h2M1206 606.5h2M4 605.5h2M123 605.5h2M156 605.5h3M163 605.5h4M268 605.5h2M659 605.5h2M708 605.5h7M774 605.5h2M804 605.5h2M871 605.5h2M916 605.5h3M921 605.5h2M928 605.5h2M1208 605.5h3M148 602.5h3M180 602.5h2M196 602.5h2M260 602.5h3M273 602.5h2M286 602.5h2M290 602.5h3M302 602.5h2M310 602.5h2M755 602.5h2M890 602.5h2M903 602.5h10M934 602.5h2M938 602.5h2M1101 602.5h2M1110 602.5h2M1154 602.5h2M1158 602.5h2M1004 619.5h5M91 587.5h2M1175 587.5h2M200 600.5h2M244 600.5h2M276 600.5h3M1114 600.5h2M1119 600.5h2M1162 600.5h2M1232 600.5h2M129 601.5h2M151 601.5h2M198 601.5h2M263 601.5h2M279 601.5h7M304 601.5h6M752 601.5h3M757 601.5h2M900 601.5h3M936 601.5h2M1112 601.5h2M1152 601.5h2M1160 601.5h2M519 627.5h7M347 617.5h2M459 617.5h2M471 617.5h2M587 617.5h8M647 617.5h2M880 617.5h5M1000 617.5h2M1056 617.5h2M60 607.5h3M66 607.5h2M491 607.5h2M616 607.5h6M693 607.5h2M700 607.5h3M705 607.5h2M801 607.5h2M1044 607.5h3M1200 607.5h6M1218 607.5h2M182 603.5h2M187 603.5h4M194 603.5h2M258 603.5h2M288 603.5h2M300 603.5h2M779 603.5h2M808 603.5h3M888 603.5h2M913 603.5h2M924 603.5h2M932 603.5h2M1107 603.5h3M1125 603.5h2M1145 603.5h2M1156 603.5h2M513 624.5h2M976 624.5h3M994 624.5h3M1019 624.5h2M364 621.5h2M602 621.5h3M1024 621.5h2M1075 621.5h2M736 584.5h3M232 613.5h2M335 613.5h3M451 613.5h2M476 613.5h5M496 613.5h3M502 613.5h2M637 613.5h2M787 613.5h6M818 613.5h2M830 613.5h2M1032 613.5h2M71 611.5h2M114 611.5h2M326 611.5h2M340 611.5h3M384 611.5h3M390 611.5h2M418 611.5h2M427 611.5h2M436 611.5h3M443 611.5h4M579 611.5h2M628 611.5h7M843 611.5h2M950 611.5h2M1036 611.5h3M99 594.5h3M1252 594.5h3M25 626.5h2M371 626.5h2M516 626.5h3M559 626.5h2M972 626.5h2M983 626.5h6M974 625.5h2M979 625.5h4M989 625.5h2M456 616.5h3M468 616.5h3M584 616.5h3M595 616.5h2M1064 616.5h2M13 615.5h2M483 615.5h2M571 615.5h2M640 615.5h3M821 615.5h2M835 615.5h2M1066 615.5h2M296 609.5h2M355 609.5h2M381 609.5h2M399 609.5h6M624 609.5h2M696 609.5h2M1041 609.5h2M1085 609.5h2M1135 609.5h3M202 599.5h2M246 599.5h2M672 599.5h3M760 599.5h3M1097 599.5h2M1116 599.5h3M1234 599.5h2M539 633.5h4M600 620.5h2M1009 620.5h2M1072 620.5h3M366 622.5h2M1012 622.5h3M1026 622.5h3M992 623.5h2M1015 623.5h4M1021 623.5h2M28 628.5h5M526 628.5h2M17 618.5h2M461 618.5h2M552 618.5h3M1002 618.5h2M1058 618.5h2M1061 618.5h2M84 589.5h3M734 585.5h2M739 585.5h2M725 591.5h2M1186 591.5h2M102 595.5h2M863 595.5h2M1224 595.5h3M87 588.5h4M729 588.5h2M1172 588.5h3M33 629.5h2M528 629.5h2M40 636.5h6M96 593.5h3M1191 593.5h2M1255 593.5h2M532 631.5h3M1184 590.5h2M1188 592.5h3M535 632.5h4M732 586.5h2M1177 586.5h2M46 637.5h2M543 634.5h2M530 630.5h2M887.5 605v4M1248.5 584v2M105.5 598v2M1103.5 603v1M837.5 614v1M746.5 594v2M727.5 590v1M671.5 600v1M347.5 616v1M1249.5 586v2M1053.5 611v2M350.5 612v3M495.5 611v2M1030.5 617v3M487.5 608v2M996.5 625v1M551.5 619v3M731.5 587v1M119.5 607v2M312.5 603v1M69.5 607v2M131.5 600v1M563.5 620v2M58.5 614v5M875.5 609v2M886.5 609v3M1244.5 592v2M878.5 614v1M313.5 604v1M795.5 606v2M575.5 613v1M241.5 605v2M1141.5 606v1M1122.5 602v1M1099.5 600v1M879.5 615v2M74.5 604v4M464.5 620v1M107.5 602v2M358.5 611v2M1100.5 601v1M966.5 619v1M1092.5 605v2M484.5 616v1M1148.5 605v1M172.5 609v1M1195.5 600v2M57.5 619v4M1168.5 592v1M719.5 597v2M362.5 617v2M940.5 603v1M38.5 633v2M783.5 609v2M666.5 601v1M9.5 605v3M548.5 627v2M1180.5 584v1M229.5 608v2M104.5 596v2M803.5 606v1M81.5 593v2M1221.5 602v3M848.5 605v2M19.5 619v1M784.5 611v1M605.5 618v3M373.5 621v4M73.5 608v3M1079.5 617v1M566.5 616v2M681.5 604v2M494.5 610v1M255.5 602v2M20.5 620v1M684.5 609v1M1164.5 599v1M414.5 614v1M267.5 604v1M319.5 605v1M369.5 624v1M864.5 594v1M1083.5 609v2M175.5 606v1M361.5 615v2M49.5 637v1M655.5 605v1M707.5 606v1M179.5 603v1M27.5 627v1M11.5 610v3M608.5 609v1M825.5 616v1M1194.5 597v3M852.5 597v1M1183.5 588v2M1049.5 607v1M53.5 630v2M885.5 612v4M894.5 598v2M266.5 603v1M236.5 611v1M866.5 598v3M1243.5 594v1M780.5 604v1M749.5 598v1M52.5 632v2M315.5 607v1M1144.5 602v1M1247.5 586v2M475.5 614v1M965.5 618v1M433.5 608v1M547.5 629v2M1094.5 601v2M171.5 608v1M76.5 599v2M316.5 608v1M1167.5 593v2M1197.5 604v1M1220.5 605v2M360.5 614v1M999.5 618v2M1029.5 620v2M372.5 625v1M372.5 627v1M486.5 610v3M434.5 609v1M15.5 616v1M550.5 622v2M847.5 607v1M722.5 594v1M782.5 607v2M562.5 622v2M228.5 606v2M1090.5 608v2M748.5 597v1M368.5 623v1M56.5 623v3M22.5 622v2M466.5 618v1M297.5 608v1M662.5 602v1M1063.5 617v1M946.5 608v1M695.5 608v1M1170.5 590v1M877.5 612v2M314.5 605v2M60.5 608v2M1215.5 607v1M991.5 624v1M429.5 610v1M170.5 606v2M379.5 609v1M767.5 604v2M1196.5 602v2M505.5 613v2M650.5 613v2M231.5 611v2M1181.5 585v2M352.5 609v1M227.5 604v2M1182.5 587v1M1193.5 595v2M1223.5 597v3M155.5 604v1M794.5 608v2M8.5 603v1M375.5 613v4M75.5 601v3M565.5 618v1M1246.5 588v2M493.5 608v2M485.5 613v2M607.5 611v3M1082.5 611v2M851.5 598v2M549.5 624v3M383.5 610v1M718.5 599v2M1222.5 600v2M363.5 619v2M561.5 624v2M645.5 615v1M1089.5 610v1M1078.5 618v2M242.5 603v2M504.5 612v1M1124.5 604v1M850.5 600v3M839.5 611v1M781.5 605v2M865.5 596v2M59.5 610v4M667.5 602v1M1093.5 603v2M1166.5 595v2M413.5 615v1M687.5 607v1M668.5 603v1M272.5 603v1M174.5 607v1M135.5 597v1M846.5 608v2M48.5 638v1M21.5 621v1M724.5 592v1M1131.5 606v2M663.5 600v2M1123.5 603v1M652.5 609v2M766.5 602v2M507.5 616v2M967.5 620v1M435.5 610v1M55.5 626v2M759.5 600v1M614.5 609v2M793.5 610v2M896.5 596v1M606.5 614v4M1128.5 601v1M374.5 617v4M508.5 618v1M1242.5 595v1M83.5 590v2M230.5 610v1M1192.5 594v1M1055.5 615v2M651.5 611v2M295.5 607v2M744.5 592v1M431.5 608v1M51.5 634v1M1051.5 609v1M1229.5 597v1M78.5 597v1M318.5 606v1M1032.5 614v1M750.5 599v1M557.5 621v2M998.5 620v2M370.5 625v1M515.5 625v1M1096.5 598v1M1230.5 598v1M405.5 610v1M728.5 589v1M751.5 600v1M823.5 616v1M238.5 609v1M1130.5 604v2M721.5 595v1M827.5 613v1M838.5 612v2M815.5 610v2M765.5 600v2M1198.5 605v1M128.5 602v1M506.5 615v1M1081.5 613v2M16.5 617v1M1050.5 608v1M35.5 630v1M598.5 618v1M1199.5 606v1M226.5 601v3M1245.5 590v2M465.5 619v1M743.5 590v2M1054.5 613v2M678.5 600v2M23.5 624v1M849.5 603v2M947.5 609v1M1011.5 621v1M24.5 625v1M613.5 611v1M351.5 610v2M582.5 613v2M488.5 607v1M1023.5 622v1M1129.5 602v2M415.5 613v1M321.5 605v2M583.5 615v1M639.5 614v1M670.5 601v1M597.5 617v1M970.5 623v2M93.5 588v2M108.5 604v2M294.5 605v2M118.5 609v1M1252.5 593v1M654.5 606v2M799.5 607v1M1149.5 604v1M560.5 627v1M146.5 599v2M1087.5 610v1M962.5 614v2M1088.5 611v1M12.5 613v2M1091.5 607v1M54.5 628v2M1069.5 615v2M1080.5 615v2M1251.5 591v2M1179.5 585v1M411.5 615v1M80.5 595v1M320.5 604v1M646.5 616v1M1031.5 615v2M814.5 608v2M764.5 599v1M376.5 611v2M898.5 598v2M1095.5 599v2M867.5 601v2M176.5 605v1M510.5 620v2M742.5 588v2M50.5 635v2M293.5 603v2M868.5 603v1M240.5 607v1M555.5 619v1M558.5 623v2M275.5 601v1M225.5 599v2M677.5 599v1M559.5 625v1M824.5 617v1M407.5 612v1M1213.5 605v1M1068.5 614v1M323.5 608v2M296.5 610v1M893.5 600v1M661.5 603v2M1250.5 588v3M968.5 621v1M567.5 615v1M897.5 597v1M77.5 598v1M509.5 619v1M969.5 622v1M741.5 586v2M345.5 613v2M145.5 598v1M1140.5 607v1M1143.5 603v1M723.5 593v1M406.5 611v1M649.5 615v2M346.5 615v1M943.5 605v1M243.5 601v2M224.5 598v1M1231.5 599v1M1060.5 619v1M1071.5 618v2M68.5 606v1M581.5 612v1M349.5 615v2M874.5 608v1M961.5 613v1M467.5 617v1M1224.5 596v1M813.5 606v2M110.5 607v2M604.5 622v1M1151.5 602v1M923.5 604v1M1171.5 589v1M95.5 591v2M106.5 600v2M357.5 610v1M599.5 619v1M717.5 601v2M653.5 608v1M745.5 593v1M474.5 615v1M380.5 608v1M546.5 631v1M611.5 611v1M1052.5 610v1M820.5 614v1M37.5 632v1M665.5 600v1M679.5 602v1M612.5 612v1M615.5 608v1M680.5 603v1M873.5 606v2M72.5 612v1M669.5 602v1M1121.5 601v1M1070.5 617v1M117.5 610v2M463.5 619v1M455.5 615v1M132.5 599v1M812.5 605v1M36.5 631v1M299.5 604v2M1147.5 604v1M322.5 607v1M899.5 600v1M94.5 590v1M971.5 625v1M511.5 622v1M648.5 618v1M239.5 608v1M512.5 623v1M147.5 601v1M265.5 602v1M800.5 608v1M1169.5 591v1M348.5 618v1M915.5 604v1M683.5 607v2M884.5 616v1M1077.5 620v1M888.5 604v1M963.5 616v1M1165.5 597v2M892.5 601v1M964.5 617v1M10.5 608v2M1142.5 604v2M997.5 622v2M545.5 632v2M109.5 606v1M412.5 616v1M664.5 599v1M173.5 608v1M845.5 610v1M826.5 614v2M556.5 620v1M292.5 601v1M253.5 599v2M682.5 606v1M254.5 601v1M945.5 607v1M1028.5 623v1M298.5 606v2M895.5 597v1M432.5 607v1M70.5 609v1M1127.5 602v1M1241.5 596v1M79.5 596v1M876.5 611v1M82.5 592v1M1043.5 608v1M71.5 610v1M1214.5 606v1M564.5 619v1M552.5 617v1M796.5 605v1M39.5 635v1M359.5 613v1M317.5 607v1M473.5 616v1M747.5 596v1M1084.5 608v1M153.5 602v1M237.5 610v1M154.5 603v1M720.5 596v1M792.5 612v1M944.5 606v1M127.5 603v1M408.5 613v1M116.5 612v1M1150.5 603v1M169.5 605v1M716.5 603v1M111.5 609v1M430.5 609v1" fill="none" stroke="#1e90ff" stroke-width="1"/>
</g>
<g shape-rendering="crispEdges">
<rect x="4" y="678" width="1" height="8" fill="#c0c0c0"/>
<rect x="8" y="679" width="1" height="7" fill="#c0c0c0"/>
<rect x="12" y="683" width="1" height="3" fill="#c0c0c0"/>
<rect x="16" y="686" width="1" height="1" fill="#c0c0c0"/>
<rect x="20" y="686" width="1" height="6" fill="#c0c0c0"/>
<rect x="24" y="686" width="1" height="11" fill="#c0c0c0"/>
<rect x="28" y="686" width="1" height="18" fill="#c0c0c0"/>
<rect x="32" y="686" width="1" height="22" fill="#c0c0c0"/>
<rect x="36" y="686" width="1" height="28" fill="#c0c0c0"/>
<rect x="40" y="686" width="1" height="37" fill="#c0c0c0"/>
<rect x="44" y="686" width="1" height="45" fill="#c0c0c0"/>
<rect x="48" y="686" width="1" height="53" fill="#c0c0c0"/>
<rect x="52" y="686" width="1" height="58" fill="#c0c0c0"/>
<rect x="56" y="686" width="1" height="58" fill="#c0c0c0"/>
<rect x="60" y="686" width="1" height="51" fill="#c0c0c0"/>
<rect x="64" y="686" width="1" height="45" fill="#c0c0c0"/>
<rect x="68" y="686" width="1" height="39" fill="#c0c0c0"/>
<rect x="72" y="686" width="1" height="38" fill="#c0c0c0"/>
<rect x="76" y="686" width="1" height="29" fill="#c0c0c0"/>
<rect x="80" y="686" width="1" height="18" fill="#c0c0c0"/>
<rect x="84" y="686" width="1" height="4" fill="#c0c0c0"/>
<rect x="88" y="678" width="1" height="8" fill="#c0c0c0"/>
<rect x="92" y="668" width="1" height="18" fill="#c0c0c0"/>
<rect x="96" y="662" width="1" height="24" fill="#c0c0c0"/>
<rect x="100" y="659" width="1" height="27" fill="#c0c0c0"/>
<rect x="104" y="659" width="1" height="27" fill="#c0c0c0"/>
<rect x="108" y="664" width="1" height="22" fill="#c0c0c0"/>
<rect x="112" y="673" width="1" height="13" fill="#c0c0c0"/>
<rect x="116" y="681" width="1" height="5" fill="#c0c0c0"/>
<rect x="120" y="684" width="1" height="2" fill="#c0c0c0"/>
<rect x="124" y="685" width="1" height="1" fill="#c0c0c0"/>
<rect x="128" y="684" width="1" height="2" fill="#c0c0c0"/>
<rect x="132" y="681" width="1" height="5" fill="#c0c0c0"/>
<rect x="136" y="677" width="1" height="9" fill="#c0c0c0"/>
<rect x="140" y="674" width="1" height="12" fill="#c0c0c0"/>
<rect x="144" y="672" width="1" height="14" fill="#c0c0c0"/>
<rect x="148" y="673" width="1" height="13" fill="#c0c0c0"/>
<rect x="152" y="673" width="1" height="13" fill="#c0c0c0"/>
<rect x="156" y="676" width="1" height="10" fill="#c0c0c0"/>
<rect x="160" y="679" width="1" height="7" fill="#c0c0c0"/>
<rect x="164" y="681" width="1" height="5" fill="#c0c0c0"/>
<rect x="168" y="682" width="1" height="4" fill="#c0c0c0"/>
<rect x="172" y="686" width="1" height="1" fill="#c0c0c0"/>
<rect x="176" y="686" width="1" height="1" fill="#c0c0c0"/>
<rect x="180" y="686" width="1" height="1" fill="#c0c0c0"/>
<rect x="184" y="686" width="1" height="1" fill="#c0c0c0"/>
<rect x="188" y="686" width="1" height="1" fill="#c0c0c0"/>
<rect x="192" y="686" width="1" height="1" fill="#c0c0c0"/>
<rect x="196" y="685" width="1" height="1" fill="#c0c0c0"/>
<rect x="200" y="683" width="1" height="3" fill="#c0c0c0"/>
<rect x="204" y="681" width="1" height="5" fill="#c0c0c0"/>
<rect x="208" y="679" width="1" height="7" fill="#c0c0c0"/>
<rect x="212" y="677" width="1" height="9" fill="#c0c0c0"/>
<rect x="216" y="676" width="1" height="10" fill="#c0c0c0"/>
<rect x="220" y="675" width="1" height="11" fill="#c0c0c0"/>
<rect x="224" y="675" width="1" height="11" fill="#c0c0c0"/>
<rect x="228" y="678" width="1" height="8" fill="#c0c0c0"/>
<rect x="232" y="683" width="1" height="3" fill="#c0c0c0"/>
<rect x="236" y="686" width="1" height="1" fill="#c0c0c0"/>
<rect x="240" y="686" width="1" height="2" fill="#c0c0c0"/>
<rect x="244" y="686" width="1" height="1" fill="#c0c0c0"/>
<rect x="248" y="684" width="1" height="2" fill="#c0c0c0"/>
<rect x="252" y="682" width="1" height="4" fill="#c0c0c0"/>
<rect x="256" y="682" width="1" height="4" fill="#c0c0c0"/>
<rect x="260" y="682" width="1" height="4" fill="#c0c0c0"/>
<rect x="264" y="682" width="1" height="4" fill="#c0c0c0"/>
<rect x="268" y="683" width="1" height="3" fill="#c0c0c0"/>
<rect x="272" y="683" width="1" height="3" fill="#c0c0c0"/>
<rect x="276" y="682" width="1" height="4" fill="#c0c0c0"/>
<rect x="280" y="682" width="1" height="4" fill="#c0c0c0"/>
<rect x="284" y="681" width="1" height="5" fill="#c0c0c0"/>
<rect x="288" y="682" width="1" height="4" fill="#c0c0c0"/>
<rect x="292" y="681" width="1" height="5" fill="#c0c0c0"/>
<rect x="296" y="685" width="1" height="1" fill="#c0c0c0"/>
<rect x="300" y="684" width="1" height="2" fill="#c0c0c0"/>
<rect x="304" y="684" width="1" height="2" fill="#c0c0c0"/>
<rect x="308" y="683" width="1" height="3" fill="#c0c0c0"/>
<rect x="312" y="683" width="1" height="3" fill="#c0c0c0"/>
<rect x="316" y="685" width="1" height="1" fill="#c0c0c0"/>
<rect x="320" y="685" width="1" height="1" fill="#c0c0c0"/>
<rect x="324" y="686" width="1" height="2" fill="#c0c0c0"/>
<rect x="328" y="686" width="1" height="5" fill="#c0c0c0"/>
<rect x="332" y="686" width="1" height="7" fill="#c0c0c0"/>
<rect x="336" y="686" width="1" height="9" fill="#c0c0c0"/>
<rect x="340" y="686" width="1" height="10" fill="#c0c0c0"/>
<rect x="344" y="686" width="1" height="11" fill="#c0c0c0"/>
<rect x="348" y="686" width="1" height="14" fill="#c0c0c0"/>
<rect x="352" y="686" width="1" height="14" fill="#c0c0c0"/>
<rect x="356" y="686" width="1" height="13" fill="#c0c0c0"/>
<rect x="360" y="686" width="1" height="15" fill="#c0c0c0"/>
<rect x="364" y="686" width="1" height="20" fill="#c0c0c0"/>
<rect x="368" y="686" width="1" height="25" fill="#c0c0c0"/>
<rect x="372" y="686" width="1" height="32" fill="#c0c0c0"/>
<rect x="376" y="686" width="1" height="31" fill="#c0c0c0"/>
<rect x="380" y="686" width="1" height="28" fill="#c0c0c0"/>
<rect x="384" y="686" width="1" height="28" fill="#c0c0c0"/>
<rect x="388" y="686" width="1" height="28" fill="#c0c0c0"/>
<rect x="392" y="686" width="1" height="26" fill="#c0c0c0"/>
<rect x="396" y="686" width="1" height="25" fill="#c0c0c0"/>
<rect x="400" y="686" width="1" height="23" fill="#c0c0c0"/>
<rect x="404" y="686" width="1" height="22" fill="#c0c0c0"/>
<rect x="408" y="686" width="1" height="22" fill="#c0c0c0"/>
<rect x="412" y="686" width="1" height="24" fill="#c0c0c0"/>
<rect x="416" y="686" width="1" height="24" fill="#c0c0c0"/>
<rect x="420" y="686" width="1" height="22" fill="#c0c0c0"/>
<rect x="424" y="686" width="1" height="21" fill="#c0c0c0"/>
<rect x="428" y="686" width="1" height="21" fill="#c0c0c0"/>
<rect x="432" y="686" width="1" height="18" fill="#c0c0c0"/>
<rect x="436" y="686" width="1" height="18" fill="#c0c0c0"/>
<rect x="440" y="686" width="1" height="18" fill="#c0c0c0"/>
<rect x="444" y="686" width="1" height="18" fill="#c0c0c0"/>
<rect x="448" y="686" width="1" height="18" fill="#c0c0c0"/>
<rect x="452" y="686" width="1" height="18" fill="#c0c0c0"/>
<rect x="456" y="686" width="1" height="19" fill="#c0c0c0"/>
<rect x="460" y="686" width="1" height="20" fill="#c0c0c0"/>
<rect x="464" y="686" width="1" height="21" fill="#c0c0c0"/>
<rect x="468" y="686" width="1" height="22" fill="#c0c0c0"/>
<rect x="472" y="686" width="1" height="22" fill="#c0c0c0"/>
<rect x="476" y="686" width="1" height="21" fill="#c0c0c0"/>
<rect x="480" y="686" width="1" height="20" fill="#c0c0c0"/>
<rect x="484" y="686" width="1" height="20" fill="#c0c0c0"/>
<rect x="488" y="686" width="1" height="18" fill="#c0c0c0"/>
<rect x="492" y="686" width="1" height="16" fill="#c0c0c0"/>
<rect x="496" y="686" width="1" height="16" fill="#c0c0c0"/>
<rect x="500" y="686" width="1" height="17" fill="#c0c0c0"/>
<rect x="504" y="686" width="1" height="16" fill="#c0c0c0"/>
<rect x="508" y="686" width="1" height="18" fill="#c0c0c0"/>
<rect x="512" y="686" width="1" height="21" fill="#c0c0c0"/>
<rect x="516" y="686" width="1" height="26" fill="#c0c0c0"/>
<rect x="520" y="686" width="1" height="30" fill="#c0c0c0"/>
<rect x="524" y="686" width="1" height="33" fill="#c0c0c0"/>
<rect x="528" y="686" width="1" height="35" fill="#c0c0c0"/>
<rect x="532" y="686" width="1" height="38" fill="#c0c0c0"/>
<rect x="536" y="686" width="1" height="42" fill="#c0c0c0"/>
<rect x="540" y="686" width="1" height="45" fill="#c0c0c0"/>
<rect x="544" y="686" width="1" height="47" fill="#c0c0c0"/>
<rect x="548" y="686" width="1" height="47" fill="#c0c0c0"/>
<rect x="552" y="686" width="1" height="44" fill="#c0c0c0"/>
<rect x="556" y="686" width="1" height="43" fill="#c0c0c0"/>
<rect x="560" y="686" width="1" height="46" fill="#c0c0c0"/>
<rect x="564" y="686" width="1" height="46" fill="#c0c0c0"/>
<rect x="568" y="686" width="1" height="43" fill="#c0c0c0"/>
<rect x="572" y="686" width="1" height="41" fill="#c0c0c0"/>
<rect x="576" y="686" width="1" height="38" fill="#c0c0c0"/>
<rect x="580" y="686" width="1" height="35" fill="#c0c0c0"/>
<rect x="584" y="686" width="1" height="34" fill="#c0c0c0"/>
<rect x="588" y="686" width="1" height="34" fill="#c0c0c0"/>
<rect x="592" y="686" width="1" height="34" fill="#c0c0c0"/>
<rect x="596" y="686" width="1" height="33" fill="#c0c0c0"/>
<rect x="600" y="686" width="1" height="33" fill="#c0c0c0"/>
<rect x="604" y="686" width="1" height="35" fill="#c0c0c0"/>
<rect x="608" y="686" width="1" height="32" fill="#c0c0c0"/>
<rect x="612" y="686" width="1" height="30" fill="#c0c0c0"/>
<rect x="616" y="686" width="1" height="27" fill="#c0c0c0"/>
<rect x="620" y="686" width="1" height="24" fill="#c0c0c0"/>
<rect x="624" y="686" width="1" height="22" fill="#c0c0c0"/>
<rect x="628" y="686" width="1" height="22" fill="#c0c0c0"/>
<rect x="632" y="686" width="1" height="21" fill="#c0c0c0"/>
<rect x="636" y="686" width="1" height="20" fill="#c0c0c0"/>
<rect x="640" y="686" width="1" height="21" fill="#c0c0c0"/>
<rect x="644" y="686" width="1" height="21" fill="#c0c0c0"/>
<rect x="648" y="686" width="1" height="23" fill="#c0c0c0"/>
<rect x="652" y="686" width="1" height="21" fill="#c0c0c0"/>
<rect x="656" y="686" width="1" height="18" fill="#c0c0c0"/>
<rect x="660" y="686" width="1" height="15" fill="#c0c0c0"/>
<rect x="664" y="686" width="1" height="11" fill="#c0c0c0"/>
<rect x="668" y="686" width="1" height="9" fill="#c0c0c0"/>
<rect x="672" y="686" width="1" height="6" fill="#c0c0c0"/>
<rect x="676" y="686" width="1" height="3" fill="#c0c0c0"/>
<rect x="680" y="686" width="1" height="2" fill="#c0c0c0"/>
<rect x="684" y="686" width="1" height="3" fill="#c0c0c0"/>
<rect x="688" y="686" width="1" height="4" fill="#c0c0c0"/>
<rect x="692" y="686" width="1" height="4" fill="#c0c0c0"/>
<rect x="696" y="686" width="1" height="5" fill="#c0c0c0"/>
<rect x="700" y="686" width="1" height="6" fill="#c0c0c0"/>
<rect x="704" y="686" width="1" height="6" fill="#c0c0c0"/>
<rect x="708" y="686" width="1" height="5" fill="#c0c0c0"/>
<rect x="712" y="686" width="1" height="5" fill="#c0c0c0"/>
<rect x="716" y="686" width="1" height="4" fill="#c0c0c0"/>
<rect x="720" y="686" width="1" height="1" fill="#c0c0c0"/>
<rect x="724" y="683" width="1" height="3" fill="#c0c0c0"/>
<rect x="728" y="678" width="1" height="8" fill="#c0c0c0"/>
<rect x="732" y="674" width="1" height="12" fill="#c0c0c0"/>
<rect x="736" y="669" width="1" height="17" fill="#c0c0c0"/>
<rect x="740" y="665" width="1" height="21" fill="#c0c0c0"/>
<rect x="744" y="665" width="1" height="21" fill="#c0c0c0"/>
<rect x="748" y="666" width="1" height="20" fill="#c0c0c0"/>
<rect x="752" y="668" width="1" height="18" fill="#c0c0c0"/>
<rect x="756" y="670" width="1" height="16" fill="#c0c0c0"/>
<rect x="760" y="671" width="1" height="15" fill="#c0c0c0"/>
<rect x="764" y="672" width="1" height="14" fill="#c0c0c0"/>
<rect x="768" y="675" width="1" height="11" fill="#c0c0c0"/>
<rect x="772" y="677" width="1" height="9" fill="#c0c0c0"/>
<rect x="776" y="679" width="1" height="7" fill="#c0c0c0"/>
<rect x="780" y="680" width="1" height="6" fill="#c0c0c0"/>
<rect x="784" y="684" width="1" height="2" fill="#c0c0c0"/>
<rect x="788" y="686" width="1" height="1" fill="#c0c0c0"/>
<rect x="792" y="686" width="1" height="4" fill="#c0c0c0"/>
<rect x="796" y="686" width="1" height="3" fill="#c0c0c0"/>
<rect x="800" y="686" width="1" height="4" fill="#c0c0c0"/>
<rect x="804" y="686" width="1" height="4" fill="#c0c0c0"/>
<rect x="808" y="686" width="1" height="3" fill="#c0c0c0"/>
<rect x="812" y="686" width="1" height="3" fill="#c0c0c0"/>
<rect x="816" y="686" width="1" height="5" fill="#c0c0c0"/>
<rect x="820" y="686" width="1" height="7" fill="#c0c0c0"/>
<rect x="824" y="686" width="1" height="11" fill="#c0c0c0"/>
<rect x="828" y="686" width="1" height="11" fill="#c0c0c0"/>
<rect x="832" y="686" width="1" height="13" fill="#c0c0c0"/>
<rect x="836" y="686" width="1" height="14" fill="#c0c0c0"/>
<rect x="840" y="686" width="1" height="14" fill="#c0c0c0"/>
<rect x="844" y="686" width="1" height="14" fill="#c0c0c0"/>
<rect x="848" y="686" width="1" height="12" fill="#c0c0c0"/>
<rect x="852" y="686" width="1" height="8" fill="#c0c0c0"/>
<rect x="856" y="686" width="1" height="4" fill="#c0c0c0"/>
<rect x="860" y="686" width="1" height="1" fill="#c0c0c0"/>
<rect x="864" y="684" width="1" height="2" fill="#c0c0c0"/>
<rect x="868" y="684" width="1" height="2" fill="#c0c0c0"/>
<rect x="872" y="685" width="1" height="1" fill="#c0c0c0"/>
<rect x="876" y="686" width="1" height="2" fill="#c0c0c0"/>
<rect x="880" y="686" width="1" height="7" fill="#c0c0c0"/>
<rect x="884" y="686" width="1" height="11" fill="#c0c0c0"/>
<rect x="888" y="686" width="1" height="9" fill="#c0c0c0"/>
<rect x="892" y="686" width="1" height="6" fill="#c0c0c0"/>
<rect x="896" y="686" width="1" height="2" fill="#c0c0c0"/>
<rect x="900" y="686" width="1" height="1" fill="#c0c0c0"/>
<rect x="904" y="685" width="1" height="1" fill="#c0c0c0"/>
<rect x="908" y="685" width="1" height="1" fill="#c0c0c0"/>
<rect x="912" y="684" width="1" height="2" fill="#c0c0c0"/>
<rect x="916" y="685" width="1" height="1" fill="#c0c0c0"/>
<rect x="920" y="686" width="1" height="1" fill="#c0c0c0"/>
<rect x="924" y="686" width="1" height="1" fill="#c0c0c0"/>
<rect x="928" y="686" width="1" height="1" fill="#c0c0c0"/>
<rect x="932" y="686" width="1" height="1" fill="#c0c0c0"/>
<rect x="936" y="685" width="1" height="1" fill="#c0c0c0"/>
<rect x="940" y="685" width="1" height="1" fill="#c0c0c0"/>
<rect x="944" y="686" width="1" height="1" fill="#c0c0c0"/>
<rect x="948" y="686" width="1" height="2" fill="#c0c0c0"/>
<rect x="952" y="686" width="1" height="4" fill="#c0c0c0"/>
<rect x="956" y="686" width="1" height="6" fill="#c0c0c0"/>
<rect x="960" y="686" width="1" height="7" fill="#c0c0c0"/>
<rect x="964" y="686" width="1" height="10" fill="#c0c0c0"/>
<rect x="968" y="686" width="1" height="14" fill="#c0c0c0"/>
<rect x="972" y="686" width="1" height="20" fill="#c0c0c0"/>
<rect x="976" y="686" width="1" height="23" fill="#c0c0c0"/>
<rect x="980" y="686" width="1" height="26" fill="#c0c0c0"/>
<rect x="984" y="686" width="1" height="29" fill="#c0c0c0"/>
<rect x="988" y="686" width="1" height="31" fill="#c0c0c0"/>
<rect x="992" y="686" width="1" height="32" fill="#c0c0c0"/>
<rect x="996" y="686" width="1" height="33" fill="#c0c0c0"/>
<rect x="1000" y="686" width="1" height="32" fill="#c0c0c0"/>
<rect x="1004" y="686" width="1" height="31" fill="#c0c0c0"/>
<rect x="1008" y="686" width="1" height="31" fill="#c0c0c0"/>
<rect x="1012" y="686" width="1" height="31" fill="#c0c0c0"/>
<rect x="1016" y="686" width="1" height="32" fill="#c0c0c0"/>
<rect x="1020" y="686" width="1" height="32" fill="#c0c0c0"/>
<rect x="1024" y="686" width="1" height="31" fill="#c0c0c0"/>
<rect x="1028" y="686" width="1" height="31" fill="#c0c0c0"/>
<rect x="1032" y="686" width="1" height="29" fill="#c0c0c0"/>
<rect x="1036" y="686" width="1" height="26" fill="#c0c0c0"/>
<rect x="1040" y="686" width="1" height="24" fill="#c0c0c0"/>
<rect x="1044" y="686" width="1" height="21" fill="#c0c0c0"/>
<rect x="1048" y="686" width="1" height="18" fill="#c0c0c0"/>
<rect x="1052" y="686" width="1" height="17" fill="#c0c0c0"/>
<rect x="1056" y="686" width="1" height="17" fill="#c0c0c0"/>
<rect x="1060" y="686" width="1" height="19" fill="#c0c0c0"/>
<rect x="1064" y="686" width="1" height="19" fill="#c0c0c0"/>
<rect x="1068" y="686" width="1" height="18" fill="#c0c0c0"/>
<rect x="1072" y="686" width="1" height="20" fill="#c0c0c0"/>
<rect x="1076" y="686" width="1" height="21" fill="#c0c0c0"/>
<rect x="1080" y="686" width="1" height="21" fill="#c0c0c0"/>
<rect x="1084" y="686" width="1" height="19" fill="#c0c0c0"/>
<rect x="1088" y="686" width="1" height="18" fill="#c0c0c0"/>
<rect x="1092" y="686" width="1" height="16" fill="#c0c0c0"/>
<rect x="1096" y="686" width="1" height="11" fill="#c0c0c0"/>
<rect x="1100" y="686" width="1" height="9" fill="#c0c0c0"/>
<rect x="1104" y="686" width="1" height="8" fill="#c0c0c0"/>
<rect x="1108" y="686" width="1" height="6" fill="#c0c0c0"/>
<rect x="1112" y="686" width="1" height="4" fill="#c0c0c0"/>
<rect x="1116" y="686" width="1" height="2" fill="#c0c0c0"/>
<rect x="1120" y="686" width="1" height="1" fill="#c0c0c0"/>
<rect x="1124" y="686" width="1" height="1" fill="#c0c0c0"/>
<rect x="1128" y="686" width="1" height="1" fill="#c0c0c0"/>
<rect x="1132" y="686" width="1" height="1" fill="#c0c0c0"/>
<rect x="1136" y="686" width="1" height="2" fill="#c0c0c0"/>
<rect x="1140" y="686" width="1" height="3" fill="#c0c0c0"/>
<rect x="1144" y="686" width="1" height="2" fill="#c0c0c0"/>
<rect x="1148" y="686" width="1" height="2" fill="#c0c0c0"/>
<rect x="1152" y="686" width="1" height="1" fill="#c0c0c0"/>
<rect x="1156" y="686" width="1" height="1" fill="#c0c0c0"/>
<rect x="1160" y="686" width="1" height="1" fill="#c0c0c0"/>
<rect x="1164" y="685" width="1" height="1" fill="#c0c0c0"/>
<rect x="1168" y="682" width="1" height="4" fill="#c0c0c0"/>
<rect x="1172" y="678" width="1" height="8" fill="#c0c0c0"/>
<rect x="1176" y="675" width="1" height="11" fill="#c0c0c0"/>
<rect x="1180" y="671" width="1" height="15" fill="#c0c0c0"/>
<rect x="1184" y="669" width="1" height="17" fill="#c0c0c0"/>
<rect x="1188" y="669" width="1" height="17" fill="#c0c0c0"/>
<rect x="1192" y="668" width="1" height="18" fill="#c0c0c0"/>
<rect x="1196" y="671" width="1" height="15" fill="#c0c0c0"/>
<rect x="1200" y="674" width="1" height="12" fill="#c0c0c0"/>
<rect x="1204" y="677" width="1" height="9" fill="#c0c0c0"/>
<rect x="1208" y="679" width="1" height="7" fill="#c0c0c0"/>
<rect x="1212" y="680" width="1" height="6" fill="#c0c0c0"/>
<rect x="1216" y="682" width="1" height="4" fill="#c0c0c0"/>
<rect x="1220" y="683" width="1" height="3" fill="#c0c0c0"/>
<rect x="1224" y="681" width="1" height="5" fill="#c0c0c0"/>
<rect x="1228" y="680" width="1" height="6" fill="#c0c0c0"/>
<rect x="1232" y="680" width="1" height="6" fill="#c0c0c0"/>
<rect x="1236" y="679" width="1" height="7" fill="#c0c0c0"/>
<rect x="1240" y="678" width="1" height="8" fill="#c0c0c0"/>
<rect x="1244" y="677" width="1" height="9" fill="#c0c0c0"/>
<rect x="1248" y="672" width="1" height="14" fill="#c0c0c0"/>
<rect x="1252" y="670" width="1" height="16" fill="#c0c0c0"/>
<rect x="1256" y="669" width="1" height="17" fill="#c0c0c0"/>
<path d="M384 709.5h3M426 709.5h3M643 709.5h2M354 695.5h2M840 695.5h3M864 695.5h2M600 722.5h3M726 689.5h2M816 689.5h3M882 689.5h3M888 689.5h3M1134 689.5h3M672 702.5h2M1104 702.5h2M342 690.5h2M703 690.5h2M708 690.5h3M876 690.5h3M894 690.5h3M900 690.5h3M906 690.5h3M912 690.5h3M966 690.5h2M4 676.5h3M10 676.5h3M163 676.5h2M168 676.5h3M786 676.5h2M852 698.5h3M192 684.5h3M259 684.5h2M264 684.5h3M270 684.5h3M319 684.5h2M324 684.5h3M1176 684.5h2M504 704.5h3M510 704.5h3M667 704.5h2M180 680.5h2M223 680.5h2M240 680.5h3M1231 680.5h2M1236 680.5h3M1242 680.5h3M22 681.5h2M246 681.5h3M1182 681.5h2M541 719.5h2M612 719.5h3M331 686.5h2M732 686.5h2M930 686.5h3M943 686.5h2M948 686.5h3M564 730.5h3M576 730.5h2M29 687.5h2M811 687.5h2M924 687.5h3M955 687.5h2M1147 687.5h2M1152 687.5h3M1158 687.5h3M1164 687.5h3M696 691.5h3M714 691.5h3M720 691.5h3M823 691.5h2M1128 691.5h2M126 671.5h2M756 671.5h2M775 671.5h2M336 688.5h3M919 688.5h2M960 688.5h3M1140 688.5h3M378 706.5h2M475 706.5h2M480 706.5h3M486 706.5h3M492 706.5h3M660 706.5h3M990 706.5h2M1068 706.5h3M16 678.5h2M151 678.5h2M174 678.5h2M1188 678.5h2M690 693.5h2M1122 693.5h2M216 682.5h3M252 682.5h3M282 682.5h3M288 682.5h3M294 682.5h3M798 682.5h2M187 683.5h2M211 683.5h2M276 683.5h3M300 683.5h3M306 683.5h3M312 683.5h3M451 705.5h2M456 705.5h3M462 705.5h3M468 705.5h3M498 705.5h3M516 705.5h3M1074 705.5h3M1080 705.5h3M1086 705.5h3M1092 705.5h3M396 713.5h3M402 713.5h3M624 716.5h3M1008 716.5h3M1038 716.5h3M360 697.5h2M847 697.5h2M61 728.5h2M558 728.5h2M762 669.5h3M768 669.5h3M835 694.5h2M973 694.5h2M780 673.5h2M1200 673.5h3M1207 673.5h2M1212 673.5h3M144 679.5h3M228 679.5h3M234 679.5h3M792 679.5h2M1248 679.5h3M66 731.5h2M570 731.5h3M138 677.5h2M156 677.5h3M745 677.5h2M1224 677.5h2M1254 677.5h2M390 711.5h2M414 711.5h3M997 711.5h2M408 712.5h3M636 712.5h2M1050 712.5h2M630 714.5h2M1002 714.5h2M1044 714.5h3M439 707.5h2M444 707.5h3M523 707.5h2M655 707.5h2M1063 707.5h2M366 700.5h2M120 670.5h3M619 717.5h2M1014 717.5h3M1027 717.5h2M1032 717.5h3M432 708.5h3M648 708.5h3M552 726.5h3M588 726.5h3M72 733.5h3M198 685.5h3M204 685.5h3M804 685.5h3M936 685.5h3M1171 685.5h2M1194 675.5h2M1218 675.5h2M372 703.5h2M985 703.5h2M1099 703.5h2M420 710.5h3M528 710.5h2M1056 710.5h2M678 699.5h2M1110 699.5h2M132 674.5h2M750 674.5h2M595 724.5h2M607 720.5h2M348 692.5h2M828 692.5h3M870 692.5h2M684 696.5h2M859 696.5h2M1116 696.5h2M1020 718.5h3M583 727.5h2M47.5 709v2M55.5 721v2M101.5 689v1M93.5 705v2M110.5 675v2M979.5 698v1M374.5 704v1M39.5 698v1M794.5 680v1M28.5 686v1M740.5 681v1M594.5 725v1M392.5 712v1M176.5 679v1M92.5 707v1M84.5 724v1M24.5 682v1M992.5 707v1M547.5 723v1M702.5 691v1M98.5 695v1M99.5 693v2M91.5 711v1M56.5 723v1M744.5 678v1M980.5 699v1M83.5 725v1M318.5 683v1M40.5 699v1M1206.5 672v1M186.5 682v1M79.5 730v1M738.5 683v1M1058.5 709v1M96.5 699v2M35.5 693v1M834.5 693v1M582.5 728v1M536.5 715v1M674.5 701v1M638.5 711v1M95.5 701v1M140.5 678v1M632.5 713v1M918.5 689v1M1184.5 680v1M1220.5 676v1M530.5 711v1M18.5 679v1M51.5 715v2M38.5 697v1M60.5 727v1M846.5 696v1M1026.5 718v1M1098.5 704v1M1004.5 715v1M162.5 677v1M686.5 695v1M1230.5 679v1M942.5 685v1M128.5 672v1M642.5 710v1M728.5 688v1M534.5 713v1M109.5 677v1M1196.5 674v1M800.5 683v1M954.5 686v1M752.5 673v1M1106.5 701v1M739.5 682v1M105.5 682v2M1112.5 698v1M115.5 671v1M87.5 718v2M350.5 693v1M222.5 681v1M1178.5 683v1M535.5 714v1M758.5 670v1M438.5 708v1M734.5 685v1M866.5 694v1M344.5 691v1M788.5 677v1M680.5 698v1M1062.5 708v1M1190.5 677v1M1130.5 690v1M210.5 684v1M90.5 712v2M102.5 687v2M474.5 705v1M380.5 707v1M560.5 729v1M858.5 697v1M80.5 729v1M774.5 670v1M116.5 670v1M692.5 692v1M984.5 702v1M34.5 691v2M114.5 672v1M618.5 718v1M258.5 683v1M43.5 703v1M1052.5 711v1M368.5 701v1M48.5 711v1M182.5 681v1M978.5 697v1M450.5 706v1M68.5 732v1M1118.5 695v1M540.5 718v1M666.5 705v1M150.5 679v1M872.5 691v1M44.5 704v1M52.5 717v1M822.5 690v1M578.5 729v1M85.5 723v1M522.5 706v1M606.5 721v1M1170.5 686v1M45.5 705v1M330.5 685v1M548.5 724v1M106.5 681v1M1124.5 692v1M996.5 710v1M1256.5 676v1M782.5 674v1M362.5 698v1M968.5 691v1M654.5 708v1M1226.5 678v1M1146.5 688v1M78.5 731v1M134.5 675v1M356.5 696v1M88.5 717v1M972.5 693v1M810.5 686v1M546.5 722v1" fill="none" stroke="#ff0000" stroke-width="1"/>
</g>
<g shape-rendering="crispEdges"><rect x="7" y="33" width="7" height="1"/><rect x="8" y="34" width="5" height="1"/><rect x="9" y="35" width="3" height="1"/><rect x="10" y="36" width="1" height="1"/></g>
<text x="19.5" y="38" font-size="10" fill="#000" stroke="#000" stroke-width="0.2" textLength="64" lengthAdjust="spacingAndGlyphs" >USDCHF,Daily</text>
<text x="90" y="38" font-size="10" fill="#000" stroke="#000" stroke-width="0.2" textLength="141" lengthAdjust="spacingAndGlyphs" >0.90341 0.90653 0.90287 0.90461</text>
<text x="8" y="568" font-size="10" fill="#000" stroke="#000" stroke-width="0.2" textLength="68" lengthAdjust="spacingAndGlyphs" >RSI(14) 61.7809</text>
<text x="8" y="666" font-size="10" fill="#000" stroke="#000" stroke-width="0.2" textLength="148" lengthAdjust="spacingAndGlyphs" >MACD(12,26,9) 0.003066 0.001722</text>
<text x="1586" y="59" font-size="10" fill="#000" stroke="#000" stroke-width="0.2" textLength="33" lengthAdjust="spacingAndGlyphs" >0.98900</text>
<text x="1586" y="92" font-size="10" fill="#000" stroke="#000" stroke-width="0.2" textLength="33" lengthAdjust="spacingAndGlyphs" >0.98140</text>
<text x="1586" y="125" font-size="10" fill="#000" stroke="#000" stroke-width="0.2" textLength="33" lengthAdjust="spacingAndGlyphs" >0.97360</text>
<text x="1586" y="158" font-size="10" fill="#000" stroke="#000" stroke-width="0.2" textLength="33" lengthAdjust="spacingAndGlyphs" >0.96600</text>
<text x="1586" y="191" font-size="10" fill="#000" stroke="#000" stroke-width="0.2" textLength="33" lengthAdjust="spacingAndGlyphs" >0.95820</text>
<text x="1586" y="224" font-size="10" fill="#000" stroke="#000" stroke-width="0.2" textLength="33" lengthAdjust="spacingAndGlyphs" >0.95040</text>
<text x="1586" y="257" font-size="10" fill="#000" stroke="#000" stroke-width="0.2" textLength="33" lengthAdjust="spacingAndGlyphs" >0.94280</text>
<text x="1586" y="290" font-size="10" fill="#000" stroke="#000" stroke-width="0.2" textLength="33" lengthAdjust="spacingAndGlyphs" >0.93500</text>
<text x="1586" y="323" font-size="10" fill="#000" stroke="#000" stroke-width="0.2" textLength="33" lengthAdjust="spacingAndGlyphs" >0.92740</text>
<text x="1586" y="356" font-size="10" fill="#000" stroke="#000" stroke-width="0.2" textLength="33" lengthAdjust="spacingAndGlyphs" >0.91960</text>
<text x="1586" y="389" font-size="10" fill="#000" stroke="#000" stroke-width="0.2" textLength="33" lengthAdjust="spacingAndGlyphs" >0.91200</text>
<text x="1586" y="422" font-size="10" fill="#000" stroke="#000" stroke-width="0.2" textLength="33" lengthAdjust="spacingAndGlyphs" >0.90440</text>
<text x="1586" y="455" font-size="10" fill="#000" stroke="#000" stroke-width="0.2" textLength="33" lengthAdjust="spacingAndGlyphs" >0.89660</text>
<text x="1586" y="488" font-size="10" fill="#000" stroke="#000" stroke-width="0.2" textLength="33" lengthAdjust="spacingAndGlyphs" >0.88880</text>
<text x="1586" y="521" font-size="10" fill="#000" stroke="#000" stroke-width="0.2" textLength="33" lengthAdjust="spacingAndGlyphs" >0.88100</text>
<text x="1586" y="554" font-size="10" fill="#000" stroke="#000" stroke-width="0.2" textLength="33" lengthAdjust="spacingAndGlyphs" >0.87340</text>
<text x="1584.6" y="566" font-size="10" fill="#000" stroke="#000" stroke-width="0.2" textLength="15.5" lengthAdjust="spacingAndGlyphs" >100</text>
<text x="1583.2" y="589" font-size="10" fill="#000" stroke="#000" stroke-width="0.2" textLength="10" lengthAdjust="spacingAndGlyphs" >70</text>
<text x="1583.2" y="626" font-size="10" fill="#000" stroke="#000" stroke-width="0.2" textLength="10" lengthAdjust="spacingAndGlyphs" >30</text>
<text x="1584.4" y="648" font-size="10" fill="#000" stroke="#000" stroke-width="0.2" textLength="5" lengthAdjust="spacingAndGlyphs" >0</text>
<text x="1584.4" y="664" font-size="10" fill="#000" stroke="#000" stroke-width="0.2" textLength="37" lengthAdjust="spacingAndGlyphs" >0.005818</text>
<text x="1584.4" y="690" font-size="10" fill="#000" stroke="#000" stroke-width="0.2" textLength="17.7" lengthAdjust="spacingAndGlyphs" >0.00</text>
<text x="1584.4" y="746" font-size="10" fill="#000" stroke="#000" stroke-width="0.2" textLength="41" lengthAdjust="spacingAndGlyphs" >-0.011514</text>
<g shape-rendering="crispEdges">
<rect x="1582" y="411" width="39" height="11" fill="#000"/>
<rect x="1582" y="302" width="39" height="11" fill="#ff0000"/>
<rect x="1582" y="357" width="39" height="11" fill="#ff0000"/>
<rect x="1582" y="413" width="39" height="11" fill="#00ff00"/>
<rect x="1582" y="473" width="39" height="11" fill="#0000ff"/>
<rect x="1582" y="535" width="39" height="11" fill="#0000ff"/>
</g>
<text x="1586" y="311" font-size="10" fill="#fff" stroke="#fff" stroke-width="0.2" textLength="33" lengthAdjust="spacingAndGlyphs" >0.93001</text>
<text x="1586" y="366" font-size="10" fill="#fff" stroke="#fff" stroke-width="0.2" textLength="33" lengthAdjust="spacingAndGlyphs" >0.91709</text>
<text x="1586" y="422" font-size="10" fill="#fff" stroke="#fff" stroke-width="0.2" textLength="33" lengthAdjust="spacingAndGlyphs" >0.90406</text>
<text x="1586" y="482" font-size="10" fill="#fff" stroke="#fff" stroke-width="0.2" textLength="33" lengthAdjust="spacingAndGlyphs" >0.89006</text>
<text x="1586" y="544" font-size="10" fill="#fff" stroke="#fff" stroke-width="0.2" textLength="33" lengthAdjust="spacingAndGlyphs" >0.87560</text>
<text x="3" y="762" font-size="10" fill="#000" stroke="#000" stroke-width="0.2" textLength="52" lengthAdjust="spacingAndGlyphs" >25 Feb 2020</text>
<text x="67" y="762" font-size="10" fill="#000" stroke="#000" stroke-width="0.2" textLength="52" lengthAdjust="spacingAndGlyphs" >14 Mar 2020</text>
<text x="131" y="762" font-size="10" fill="#000" stroke="#000" stroke-width="0.2" textLength="47" lengthAdjust="spacingAndGlyphs" >2 Apr 2020</text>
<text x="195" y="762" font-size="10" fill="#000" stroke="#000" stroke-width="0.2" textLength="52" lengthAdjust="spacingAndGlyphs" >21 Apr 2020</text>
<text x="259" y="762" font-size="10" fill="#000" stroke="#000" stroke-width="0.2" textLength="47" lengthAdjust="spacingAndGlyphs" >9 May 2020</text>
<text x="323" y="762" font-size="10" fill="#000" stroke="#000" stroke-width="0.2" textLength="52" lengthAdjust="spacingAndGlyphs" >28 May 2020</text>
<text x="387" y="762" font-size="10" fill="#000" stroke="#000" stroke-width="0.2" textLength="52" lengthAdjust="spacingAndGlyphs" >16 Jun 2020</text>
<text x="451" y="762" font-size="10" fill="#000" stroke="#000" stroke-width="0.2" textLength="47" lengthAdjust="spacingAndGlyphs" >4 Jul 2020</text>
<text x="515" y="762" font-size="10" fill="#000" stroke="#000" stroke-width="0.2" textLength="52" lengthAdjust="spacingAndGlyphs" >23 Jul 2020</text>
<text x="579" y="762" font-size="10" fill="#000" stroke="#000" stroke-width="0.2" textLength="52" lengthAdjust="spacingAndGlyphs" >11 Aug 2020</text>
<text x="643" y="762" font-size="10" fill="#000" stroke="#000" stroke-width="0.2" textLength="52" lengthAdjust="spacingAndGlyphs" >29 Aug 2020</text>
<text x="707" y="762" font-size="10" fill="#000" stroke="#000" stroke-width="0.2" textLength="52" lengthAdjust="spacingAndGlyphs" >17 Sep 2020</text>
<text x="771" y="762" font-size="10" fill="#000" stroke="#000" stroke-width="0.2" textLength="47" lengthAdjust="spacingAndGlyphs" >6 Oct 2020</text>
<text x="835" y="762" font-size="10" fill="#000" stroke="#000" stroke-width="0.2" textLength="52" lengthAdjust="spacingAndGlyphs" >24 Oct 2020</text>
<text x="899" y="762" font-size="10" fill="#000" stroke="#000" stroke-width="0.2" textLength="52" lengthAdjust="spacingAndGlyphs" >12 Nov 2020</text>
<text x="963" y="762" font-size="10" fill="#000" stroke="#000" stroke-width="0.2" textLength="47" lengthAdjust="spacingAndGlyphs" >1 Dec 2020</text>
<text x="1027" y="762" font-size="10" fill="#000" stroke="#000" stroke-width="0.2" textLength="52" lengthAdjust="spacingAndGlyphs" >19 Dec 2020</text>
<text x="1091" y="762" font-size="10" fill="#000" stroke="#000" stroke-width="0.2" textLength="47" lengthAdjust="spacingAndGlyphs" >9 Jan 2021</text>
<text x="1155" y="762" font-size="10" fill="#000" stroke="#000" stroke-width="0.2" textLength="52" lengthAdjust="spacingAndGlyphs" >28 Jan 2021</text>
<text x="1219" y="762" font-size="10" fill="#000" stroke="#000" stroke-width="0.2" textLength="52" lengthAdjust="spacingAndGlyphs" >16 Feb 2021</text>
<g shape-rendering="crispEdges">
<rect x="0" y="770" width="1621" height="1" fill="#e3e3e3"/>
<rect x="0" y="772" width="1621" height="24" fill="#f0f0f0"/>
<rect x="0" y="772" width="110" height="1" fill="#000"/><rect x="208" y="772" width="1413" height="1" fill="#000"/>
<rect x="1" y="773" width="108" height="1" fill="#fff"/><rect x="209" y="773" width="1412" height="1" fill="#fff"/>
<rect x="108" y="773" width="1" height="17" fill="#fff"/><rect x="209" y="773" width="1" height="17" fill="#fff"/>
<rect x="0" y="772" width="1" height="19" fill="#000"/>
<rect x="110" y="772" width="98" height="18" fill="#fff"/>
<rect x="109" y="772" width="1" height="19" fill="#000"/><rect x="208" y="772" width="1" height="19" fill="#000"/><rect x="109" y="790" width="100" height="1" fill="#000"/>
<rect x="0" y="792" width="1621" height="1" fill="#fafafa"/><rect x="0" y="793" width="1621" height="1" fill="#f5f5f5"/>
<rect x="313" y="775" width="1" height="14" fill="#808080"/>
<rect x="417" y="775" width="1" height="14" fill="#808080"/>
<rect x="521" y="775" width="1" height="14" fill="#808080"/>
<rect x="625" y="775" width="1" height="14" fill="#808080"/>
<rect x="717" y="775" width="1" height="14" fill="#808080"/>
<rect x="821" y="775" width="1" height="14" fill="#808080"/>
<rect x="894" y="775" width="1" height="14" fill="#808080"/>
<rect x="973" y="775" width="1" height="14" fill="#808080"/>
<rect x="1053" y="775" width="1" height="14" fill="#808080"/>
<rect x="1133" y="775" width="1" height="14" fill="#808080"/>
<rect x="1209" y="775" width="1" height="14" fill="#808080"/>
<rect x="1309" y="775" width="1" height="14" fill="#808080"/>
<rect x="1393" y="775" width="1" height="14" fill="#808080"/>
<rect x="1473" y="775" width="1" height="14" fill="#808080"/>
<rect x="1573" y="775" width="1" height="14" fill="#808080"/>
</g>
<text x="17.5" y="786.6" font-size="11.8" fill="#6d6d6d" stroke="#6d6d6d" stroke-width="0.05" textLength="79.3" lengthAdjust="spacingAndGlyphs" >EURUSD,Daily</text>
<text x="119.7" y="786.6" font-size="11.8" fill="#000" stroke="#000" stroke-width="0.05" textLength="77.8" lengthAdjust="spacingAndGlyphs" >USDCHF,Daily</text>
<text x="220" y="786.6" font-size="11.8" fill="#6d6d6d" stroke="#6d6d6d" stroke-width="0.05" textLength="82.0" lengthAdjust="spacingAndGlyphs" >AUDUSD,Daily</text>
<text x="324" y="786.6" font-size="11.8" fill="#6d6d6d" stroke="#6d6d6d" stroke-width="0.05" textLength="81.0" lengthAdjust="spacingAndGlyphs" >USDCAD,Daily</text>
<text x="427" y="786.6" font-size="11.8" fill="#6d6d6d" stroke="#6d6d6d" stroke-width="0.05" textLength="83.7" lengthAdjust="spacingAndGlyphs" >USDCNH,Daily</text>
<text x="533" y="786.6" font-size="11.8" fill="#6d6d6d" stroke="#6d6d6d" stroke-width="0.05" textLength="80.0" lengthAdjust="spacingAndGlyphs" >EURUSD,Daily</text>
<text x="637" y="786.6" font-size="11.8" fill="#6d6d6d" stroke="#6d6d6d" stroke-width="0.05" textLength="68.0" lengthAdjust="spacingAndGlyphs" >GBPUSD,H4</text>
<text x="728" y="786.6" font-size="11.8" fill="#6d6d6d" stroke="#6d6d6d" stroke-width="0.05" textLength="81.0" lengthAdjust="spacingAndGlyphs" >XAUUSD,Daily</text>
<text x="832" y="786.6" font-size="11.8" fill="#6d6d6d" stroke="#6d6d6d" stroke-width="0.05" textLength="49.7" lengthAdjust="spacingAndGlyphs" >HK50,H1</text>
<text x="904" y="786.6" font-size="11.8" fill="#6d6d6d" stroke="#6d6d6d" stroke-width="0.05" textLength="57.0" lengthAdjust="spacingAndGlyphs" >UK100,H1</text>
<text x="984" y="786.6" font-size="11.8" fill="#6d6d6d" stroke="#6d6d6d" stroke-width="0.05" textLength="56.7" lengthAdjust="spacingAndGlyphs" >UK100,H1</text>
<text x="1064" y="786.6" font-size="11.8" fill="#6d6d6d" stroke="#6d6d6d" stroke-width="0.05" textLength="57.0" lengthAdjust="spacingAndGlyphs" >GER30,H1</text>
<text x="1143" y="786.6" font-size="11.8" fill="#6d6d6d" stroke="#6d6d6d" stroke-width="0.05" textLength="54.7" lengthAdjust="spacingAndGlyphs" >FRA40,H1</text>
<text x="1220.7" y="786.6" font-size="11.8" fill="#6d6d6d" stroke="#6d6d6d" stroke-width="0.05" textLength="76.3" lengthAdjust="spacingAndGlyphs" >USOil,Weekly</text>
<text x="1319" y="786.6" font-size="11.8" fill="#6d6d6d" stroke="#6d6d6d" stroke-width="0.05" textLength="62.0" lengthAdjust="spacingAndGlyphs" >USDJPY,H1</text>
<text x="1403" y="786.6" font-size="11.8" fill="#6d6d6d" stroke="#6d6d6d" stroke-width="0.05" textLength="59.0" lengthAdjust="spacingAndGlyphs" >DJ30,Daily</text>
<text x="1483" y="786.6" font-size="11.8" fill="#6d6d6d" stroke="#6d6d6d" stroke-width="0.05" textLength="78.0" lengthAdjust="spacingAndGlyphs" >CHINA300,H1</text>
<clipPath id="uc"><rect x="1580" y="772" width="13" height="20"/></clipPath>
<text x="1583" y="786" font-size="11.8" fill="#6d6d6d" clip-path="url(#uc)">U</text>
<path d="M1599.5 778.5 L1599.5 785.5 L1595.5 782Z" fill="#a0a0a0"/><path d="M1614.5 778 L1614.5 786 L1618.5 782Z" fill="#000"/>
</svg>
</body></html>
